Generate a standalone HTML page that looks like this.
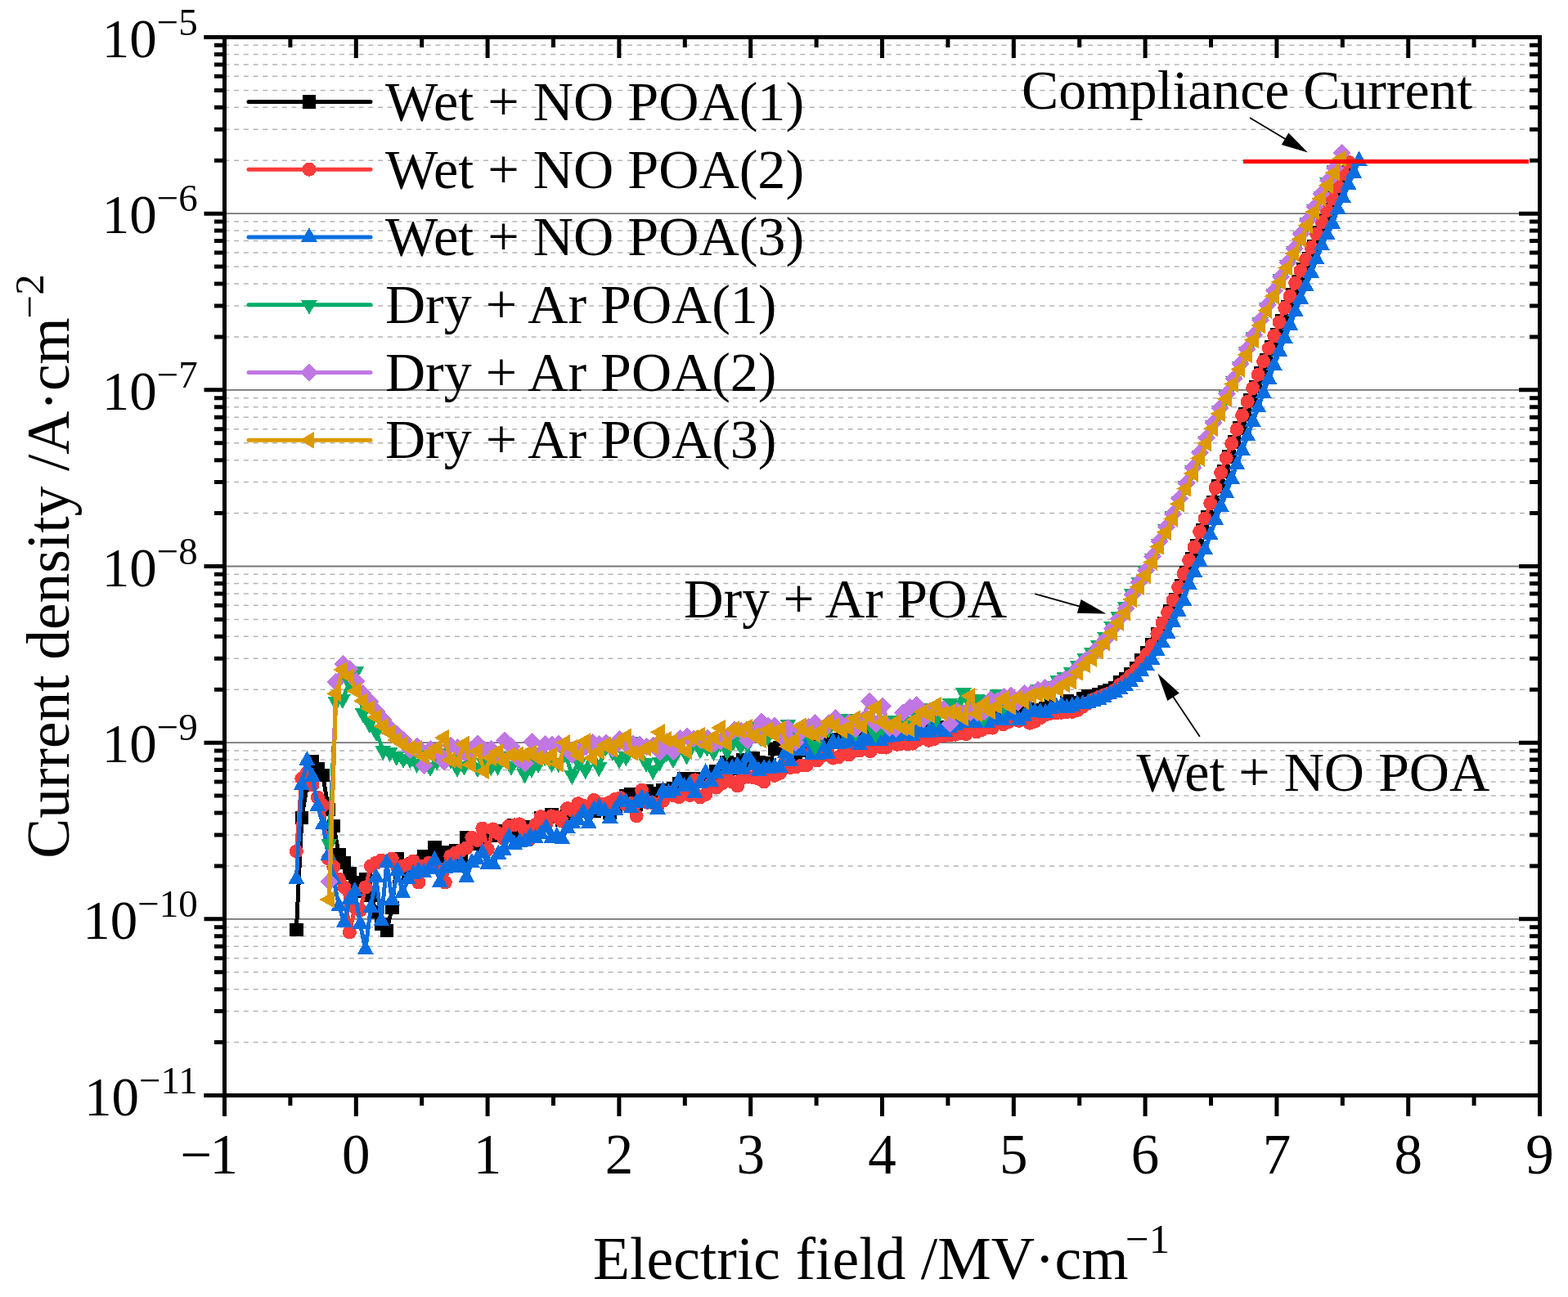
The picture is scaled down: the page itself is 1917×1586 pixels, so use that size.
<!DOCTYPE html>
<html><head><meta charset="utf-8"><title>Current density vs Electric field</title>
<style>html,body{margin:0;padding:0;background:#fff;}svg{display:block;}</style>
</head><body>
<svg width="1917" height="1586" viewBox="0 0 1917 1586">
<rect x="0" y="0" width="1917" height="1586" fill="#ffffff"/>
<path d="M274.5 1274.58H1882.5M274.5 1236.60H1882.5M274.5 1209.66H1882.5M274.5 1188.76H1882.5M274.5 1171.68H1882.5M274.5 1157.24H1882.5M274.5 1144.73H1882.5M274.5 1133.70H1882.5M274.5 1058.91H1882.5M274.5 1020.93H1882.5M274.5 993.99H1882.5M274.5 973.09H1882.5M274.5 956.01H1882.5M274.5 941.57H1882.5M274.5 929.07H1882.5M274.5 918.04H1882.5M274.5 843.24H1882.5M274.5 805.27H1882.5M274.5 778.32H1882.5M274.5 757.42H1882.5M274.5 740.35H1882.5M274.5 725.91H1882.5M274.5 713.40H1882.5M274.5 702.37H1882.5M274.5 627.58H1882.5M274.5 589.60H1882.5M274.5 562.66H1882.5M274.5 541.76H1882.5M274.5 524.68H1882.5M274.5 510.24H1882.5M274.5 497.73H1882.5M274.5 486.70H1882.5M274.5 411.91H1882.5M274.5 373.93H1882.5M274.5 346.99H1882.5M274.5 326.09H1882.5M274.5 309.01H1882.5M274.5 294.57H1882.5M274.5 282.07H1882.5M274.5 271.04H1882.5M274.5 196.24H1882.5M274.5 158.27H1882.5M274.5 131.32H1882.5M274.5 110.42H1882.5M274.5 93.35H1882.5M274.5 78.91H1882.5M274.5 66.40H1882.5M274.5 55.37H1882.5" stroke="#b4b4b4" stroke-width="1.5" stroke-dasharray="5.95 5.78" stroke-dashoffset="0.1" fill="none"/>
<path d="M274.5 1123.83H1882.5M274.5 908.17H1882.5M274.5 692.50H1882.5M274.5 476.83H1882.5M274.5 261.17H1882.5" stroke="#747474" stroke-width="1.8" fill="none"/>
<path d="M362.4 1137.0L368.9 1000.0L375.4 960.0L381.9 931.0L388.4 940.0L394.9 948.0L401.4 990.0L407.9 1010.0L414.4 1045.0L420.9 1055.0L427.4 1068.0L433.9 1079.0L440.4 1090.0L446.8 1075.0L453.3 1095.0L459.8 1115.0L466.3 1130.0L472.8 1138.0L479.3 1110.0L485.8 1050.0L492.3 1062.0L498.8 1072.3L505.3 1055.8L511.8 1053.4L518.3 1047.6L524.8 1056.9L531.3 1036.3L537.8 1058.8L544.3 1042.1L550.8 1046.1L557.3 1040.1L563.8 1047.4L570.3 1024.0L576.8 1031.3L583.3 1028.0L589.8 1034.0L596.3 1018.5L602.8 1021.8L609.2 1015.8L615.7 1019.3L622.2 1020.6L628.7 1009.1L635.2 1019.8L641.7 1016.1L648.2 1011.4L654.7 1011.4L661.2 1000.3L667.7 1001.9L674.2 996.2L680.7 998.8L687.2 1002.2L693.7 994.2L700.2 994.8L706.7 992.0L713.2 989.8L719.7 989.3L726.2 991.3L732.7 983.0L739.2 988.2L745.7 993.6L752.2 986.1L758.7 978.7L765.2 972.8L771.6 971.7L778.1 983.2L784.6 972.6L791.1 967.1L797.6 969.9L804.1 978.5L810.6 966.2L817.1 967.2L823.6 963.8L830.1 958.6L836.6 952.4L843.1 954.3L849.6 952.4L856.1 953.7L862.6 952.0L869.1 949.4L875.6 943.1L882.1 943.3L888.6 931.8L895.1 939.8L901.6 934.3L908.1 928.9L914.6 931.8L921.1 927.6L927.6 932.6L934.0 933.3L940.5 935.5L947.0 916.0L953.5 914.5L960.0 917.9L966.5 919.9L973.0 921.9L979.5 917.3L986.0 903.2L992.5 909.5L999.0 913.4L1005.5 909.0L1012.0 910.0L1018.5 904.8L1025.0 903.9L1031.5 904.2L1038.0 903.9L1044.5 902.4L1051.0 901.4L1057.5 899.0L1064.0 900.4L1070.5 899.2L1077.0 900.6L1083.5 900.1L1090.0 897.4L1096.4 895.6L1102.9 894.4L1109.4 895.9L1115.9 894.5L1122.4 892.9L1128.9 892.9L1135.4 890.8L1141.9 892.6L1148.4 889.3L1154.9 891.7L1161.4 889.0L1167.9 888.4L1174.4 883.9L1180.9 885.3L1187.4 885.3L1193.9 880.8L1200.4 881.0L1206.9 880.4L1213.4 876.3L1219.9 878.5L1226.4 878.3L1232.9 873.6L1239.4 874.8L1245.9 870.2L1252.4 871.5L1258.8 867.0L1265.3 871.1L1271.8 868.4L1278.3 866.1L1284.8 863.2L1291.3 865.8L1297.8 865.8L1304.3 857.2L1310.8 860.8L1317.3 858.9L1323.8 854.3L1330.3 851.7L1336.8 851.0L1343.3 849.2L1349.8 846.7L1356.3 844.7L1362.8 840.9L1369.3 834.7L1375.8 830.1L1382.3 823.9L1388.8 816.8L1395.3 807.5L1401.8 797.9L1408.6 788.1L1415.7 775.5L1422.8 761.9L1429.9 747.5L1437.0 732.9L1444.0 716.7L1450.5 699.8L1457.0 683.6L1463.5 667.3L1470.0 648.5L1476.5 632.4L1483.0 613.9L1489.5 594.7L1496.0 576.4L1502.5 558.3L1508.9 540.7L1515.4 523.4L1521.9 506.4L1528.4 489.6L1534.9 473.0L1541.4 456.6L1547.9 440.3L1554.4 424.2L1560.9 409.0L1567.4 392.2L1573.9 374.9L1580.4 360.7L1586.9 344.7L1593.4 329.7L1599.9 315.9L1606.4 300.8L1612.9 284.5L1619.4 270.2L1625.9 255.9L1632.4 241.3L1638.9 226.2L1645.4 211.3" stroke="#000000" stroke-width="5" fill="none" stroke-linejoin="round" stroke-linecap="round" shape-rendering="crispEdges"/>
<path d="M354.1 1128.7h16.6v16.6h-16.6zM360.6 991.7h16.6v16.6h-16.6zM367.1 951.7h16.6v16.6h-16.6zM373.6 922.7h16.6v16.6h-16.6zM380.1 931.7h16.6v16.6h-16.6zM386.6 939.7h16.6v16.6h-16.6zM393.1 981.7h16.6v16.6h-16.6zM399.6 1001.7h16.6v16.6h-16.6zM406.1 1036.7h16.6v16.6h-16.6zM412.6 1046.7h16.6v16.6h-16.6zM419.1 1059.7h16.6v16.6h-16.6zM425.6 1070.7h16.6v16.6h-16.6zM432.1 1081.7h16.6v16.6h-16.6zM438.5 1066.7h16.6v16.6h-16.6zM445.0 1086.7h16.6v16.6h-16.6zM451.5 1106.7h16.6v16.6h-16.6zM458.0 1121.7h16.6v16.6h-16.6zM464.5 1129.7h16.6v16.6h-16.6zM471.0 1101.7h16.6v16.6h-16.6zM477.5 1041.7h16.6v16.6h-16.6zM484.0 1053.7h16.6v16.6h-16.6zM490.5 1064.0h16.6v16.6h-16.6zM497.0 1047.5h16.6v16.6h-16.6zM503.5 1045.1h16.6v16.6h-16.6zM510.0 1039.3h16.6v16.6h-16.6zM516.5 1048.6h16.6v16.6h-16.6zM523.0 1028.0h16.6v16.6h-16.6zM529.5 1050.5h16.6v16.6h-16.6zM536.0 1033.8h16.6v16.6h-16.6zM542.5 1037.8h16.6v16.6h-16.6zM549.0 1031.8h16.6v16.6h-16.6zM555.5 1039.1h16.6v16.6h-16.6zM562.0 1015.7h16.6v16.6h-16.6zM568.5 1023.0h16.6v16.6h-16.6zM575.0 1019.7h16.6v16.6h-16.6zM581.5 1025.7h16.6v16.6h-16.6zM588.0 1010.2h16.6v16.6h-16.6zM594.5 1013.5h16.6v16.6h-16.6zM600.9 1007.5h16.6v16.6h-16.6zM607.4 1011.0h16.6v16.6h-16.6zM613.9 1012.3h16.6v16.6h-16.6zM620.4 1000.8h16.6v16.6h-16.6zM626.9 1011.5h16.6v16.6h-16.6zM633.4 1007.8h16.6v16.6h-16.6zM639.9 1003.1h16.6v16.6h-16.6zM646.4 1003.1h16.6v16.6h-16.6zM652.9 992.0h16.6v16.6h-16.6zM659.4 993.6h16.6v16.6h-16.6zM665.9 987.9h16.6v16.6h-16.6zM672.4 990.5h16.6v16.6h-16.6zM678.9 993.9h16.6v16.6h-16.6zM685.4 985.9h16.6v16.6h-16.6zM691.9 986.5h16.6v16.6h-16.6zM698.4 983.7h16.6v16.6h-16.6zM704.9 981.5h16.6v16.6h-16.6zM711.4 981.0h16.6v16.6h-16.6zM717.9 983.0h16.6v16.6h-16.6zM724.4 974.7h16.6v16.6h-16.6zM730.9 979.9h16.6v16.6h-16.6zM737.4 985.3h16.6v16.6h-16.6zM743.9 977.8h16.6v16.6h-16.6zM750.4 970.4h16.6v16.6h-16.6zM756.9 964.5h16.6v16.6h-16.6zM763.3 963.4h16.6v16.6h-16.6zM769.8 974.9h16.6v16.6h-16.6zM776.3 964.3h16.6v16.6h-16.6zM782.8 958.8h16.6v16.6h-16.6zM789.3 961.6h16.6v16.6h-16.6zM795.8 970.2h16.6v16.6h-16.6zM802.3 957.9h16.6v16.6h-16.6zM808.8 958.9h16.6v16.6h-16.6zM815.3 955.5h16.6v16.6h-16.6zM821.8 950.3h16.6v16.6h-16.6zM828.3 944.1h16.6v16.6h-16.6zM834.8 946.0h16.6v16.6h-16.6zM841.3 944.1h16.6v16.6h-16.6zM847.8 945.4h16.6v16.6h-16.6zM854.3 943.7h16.6v16.6h-16.6zM860.8 941.1h16.6v16.6h-16.6zM867.3 934.8h16.6v16.6h-16.6zM873.8 935.0h16.6v16.6h-16.6zM880.3 923.5h16.6v16.6h-16.6zM886.8 931.5h16.6v16.6h-16.6zM893.3 926.0h16.6v16.6h-16.6zM899.8 920.6h16.6v16.6h-16.6zM906.3 923.5h16.6v16.6h-16.6zM912.8 919.3h16.6v16.6h-16.6zM919.3 924.3h16.6v16.6h-16.6zM925.7 925.0h16.6v16.6h-16.6zM932.2 927.2h16.6v16.6h-16.6zM938.7 907.7h16.6v16.6h-16.6zM945.2 906.2h16.6v16.6h-16.6zM951.7 909.6h16.6v16.6h-16.6zM958.2 911.6h16.6v16.6h-16.6zM964.7 913.6h16.6v16.6h-16.6zM971.2 909.0h16.6v16.6h-16.6zM977.7 894.9h16.6v16.6h-16.6zM984.2 901.2h16.6v16.6h-16.6zM990.7 905.1h16.6v16.6h-16.6zM997.2 900.7h16.6v16.6h-16.6zM1003.7 901.7h16.6v16.6h-16.6zM1010.2 896.5h16.6v16.6h-16.6zM1016.7 895.6h16.6v16.6h-16.6zM1023.2 895.9h16.6v16.6h-16.6zM1029.7 895.6h16.6v16.6h-16.6zM1036.2 894.1h16.6v16.6h-16.6zM1042.7 893.1h16.6v16.6h-16.6zM1049.2 890.7h16.6v16.6h-16.6zM1055.7 892.1h16.6v16.6h-16.6zM1062.2 890.9h16.6v16.6h-16.6zM1068.7 892.3h16.6v16.6h-16.6zM1075.2 891.8h16.6v16.6h-16.6zM1081.7 889.1h16.6v16.6h-16.6zM1088.1 887.3h16.6v16.6h-16.6zM1094.6 886.1h16.6v16.6h-16.6zM1101.1 887.6h16.6v16.6h-16.6zM1107.6 886.2h16.6v16.6h-16.6zM1114.1 884.6h16.6v16.6h-16.6zM1120.6 884.6h16.6v16.6h-16.6zM1127.1 882.5h16.6v16.6h-16.6zM1133.6 884.3h16.6v16.6h-16.6zM1140.1 881.0h16.6v16.6h-16.6zM1146.6 883.4h16.6v16.6h-16.6zM1153.1 880.7h16.6v16.6h-16.6zM1159.6 880.1h16.6v16.6h-16.6zM1166.1 875.6h16.6v16.6h-16.6zM1172.6 877.0h16.6v16.6h-16.6zM1179.1 877.0h16.6v16.6h-16.6zM1185.6 872.5h16.6v16.6h-16.6zM1192.1 872.7h16.6v16.6h-16.6zM1198.6 872.1h16.6v16.6h-16.6zM1205.1 868.0h16.6v16.6h-16.6zM1211.6 870.2h16.6v16.6h-16.6zM1218.1 870.0h16.6v16.6h-16.6zM1224.6 865.3h16.6v16.6h-16.6zM1231.1 866.5h16.6v16.6h-16.6zM1237.6 861.9h16.6v16.6h-16.6zM1244.1 863.2h16.6v16.6h-16.6zM1250.5 858.7h16.6v16.6h-16.6zM1257.0 862.8h16.6v16.6h-16.6zM1263.5 860.1h16.6v16.6h-16.6zM1270.0 857.8h16.6v16.6h-16.6zM1276.5 854.9h16.6v16.6h-16.6zM1283.0 857.5h16.6v16.6h-16.6zM1289.5 857.5h16.6v16.6h-16.6zM1296.0 848.9h16.6v16.6h-16.6zM1302.5 852.5h16.6v16.6h-16.6zM1309.0 850.6h16.6v16.6h-16.6zM1315.5 846.0h16.6v16.6h-16.6zM1322.0 843.4h16.6v16.6h-16.6zM1328.5 842.7h16.6v16.6h-16.6zM1335.0 840.9h16.6v16.6h-16.6zM1341.5 838.4h16.6v16.6h-16.6zM1348.0 836.4h16.6v16.6h-16.6zM1354.5 832.6h16.6v16.6h-16.6zM1361.0 826.4h16.6v16.6h-16.6zM1367.5 821.8h16.6v16.6h-16.6zM1374.0 815.6h16.6v16.6h-16.6zM1380.5 808.5h16.6v16.6h-16.6zM1387.0 799.2h16.6v16.6h-16.6zM1393.5 789.6h16.6v16.6h-16.6zM1400.3 779.8h16.6v16.6h-16.6zM1407.4 767.2h16.6v16.6h-16.6zM1414.5 753.6h16.6v16.6h-16.6zM1421.6 739.2h16.6v16.6h-16.6zM1428.7 724.6h16.6v16.6h-16.6zM1435.7 708.4h16.6v16.6h-16.6zM1442.2 691.5h16.6v16.6h-16.6zM1448.7 675.3h16.6v16.6h-16.6zM1455.2 659.0h16.6v16.6h-16.6zM1461.7 640.2h16.6v16.6h-16.6zM1468.2 624.1h16.6v16.6h-16.6zM1474.7 605.6h16.6v16.6h-16.6zM1481.2 586.4h16.6v16.6h-16.6zM1487.7 568.1h16.6v16.6h-16.6zM1494.2 550.0h16.6v16.6h-16.6zM1500.6 532.4h16.6v16.6h-16.6zM1507.1 515.1h16.6v16.6h-16.6zM1513.6 498.1h16.6v16.6h-16.6zM1520.1 481.3h16.6v16.6h-16.6zM1526.6 464.7h16.6v16.6h-16.6zM1533.1 448.3h16.6v16.6h-16.6zM1539.6 432.0h16.6v16.6h-16.6zM1546.1 415.9h16.6v16.6h-16.6zM1552.6 400.7h16.6v16.6h-16.6zM1559.1 383.9h16.6v16.6h-16.6zM1565.6 366.6h16.6v16.6h-16.6zM1572.1 352.4h16.6v16.6h-16.6zM1578.6 336.4h16.6v16.6h-16.6zM1585.1 321.4h16.6v16.6h-16.6zM1591.6 307.6h16.6v16.6h-16.6zM1598.1 292.5h16.6v16.6h-16.6zM1604.6 276.2h16.6v16.6h-16.6zM1611.1 261.9h16.6v16.6h-16.6zM1617.6 247.6h16.6v16.6h-16.6zM1624.1 233.0h16.6v16.6h-16.6zM1630.6 217.9h16.6v16.6h-16.6zM1637.1 203.0h16.6v16.6h-16.6z" fill="#000000" shape-rendering="crispEdges"/>
<path d="M362.4 1041.0L368.9 952.0L375.4 945.0L381.9 960.0L388.4 975.0L394.9 985.0L401.4 1050.0L407.9 1060.0L414.4 1075.0L420.9 1085.0L427.4 1140.0L433.9 1110.0L440.4 1113.0L446.8 1085.0L453.3 1059.0L459.8 1055.0L466.3 1052.0L472.8 1053.0L479.3 1050.0L485.8 1061.0L492.3 1059.0L498.8 1057.0L505.3 1053.0L511.8 1079.0L518.3 1059.0L524.8 1055.0L531.3 1061.0L537.8 1063.0L544.3 1079.0L550.8 1047.0L557.3 1043.0L563.8 1040.0L570.3 1037.0L576.8 1024.3L583.3 1027.5L589.8 1013.0L596.3 1038.7L602.8 1013.9L609.2 1019.0L615.7 1025.3L622.2 1010.0L628.7 1008.8L635.2 1007.8L641.7 1015.9L648.2 1025.9L654.7 1008.5L661.2 998.6L667.7 1007.8L674.2 997.8L680.7 999.0L687.2 1004.3L693.7 988.6L700.2 991.2L706.7 982.6L713.2 985.0L719.7 986.7L726.2 978.4L732.7 982.8L739.2 983.4L745.7 980.8L752.2 977.2L758.7 975.7L765.2 983.8L771.6 982.5L778.1 997.8L784.6 966.2L791.1 981.3L797.6 981.5L804.1 986.3L810.6 979.3L817.1 969.2L823.6 973.0L830.1 974.7L836.6 967.4L843.1 972.5L849.6 953.8L856.1 974.9L862.6 971.5L869.1 958.5L875.6 963.1L882.1 958.3L888.6 951.7L895.1 956.3L901.6 961.0L908.1 951.3L914.6 950.1L921.1 950.7L927.6 952.4L934.0 956.0L940.5 942.7L947.0 948.3L953.5 945.3L960.0 931.4L966.5 938.5L973.0 938.0L979.5 936.0L986.0 935.7L992.5 919.2L999.0 929.9L1005.5 924.1L1012.0 918.9L1018.5 927.0L1025.0 926.1L1031.5 919.4L1038.0 922.9L1044.5 918.1L1051.0 918.0L1057.5 914.5L1064.0 918.7L1070.5 909.4L1077.0 913.5L1083.5 914.0L1090.0 907.8L1096.4 910.3L1102.9 909.3L1109.4 909.8L1115.9 909.2L1122.4 904.8L1128.9 901.6L1135.4 905.3L1141.9 903.7L1148.4 899.5L1154.9 899.8L1161.4 898.8L1167.9 898.2L1174.4 896.6L1180.9 897.7L1187.4 891.3L1193.9 895.0L1200.4 892.6L1206.9 889.9L1213.4 890.1L1219.9 882.0L1226.4 885.7L1232.9 882.7L1239.4 879.2L1245.9 881.4L1252.4 880.0L1258.8 884.2L1265.3 882.2L1271.8 877.9L1278.3 873.8L1284.8 872.3L1291.3 872.0L1297.8 871.3L1304.3 870.5L1310.8 870.4L1317.3 868.3L1323.8 864.3L1330.3 859.7L1336.8 855.4L1343.3 852.4L1349.8 849.8L1356.3 847.9L1362.8 843.7L1369.3 837.1L1375.8 832.9L1382.3 826.3L1388.8 819.1L1395.3 809.6L1401.8 800.2L1408.3 789.2L1414.8 775.0L1421.2 761.9L1427.7 749.1L1434.2 734.0L1440.7 718.2L1447.2 701.5L1453.7 685.2L1460.2 669.0L1466.7 650.2L1473.2 634.0L1479.7 615.7L1486.2 596.5L1492.7 578.1L1499.2 560.0L1505.7 542.4L1512.2 525.1L1518.7 508.0L1525.2 491.2L1531.7 474.6L1538.2 458.2L1544.7 441.9L1551.2 425.8L1557.7 410.6L1564.2 394.0L1570.7 376.4L1577.2 362.3L1583.6 346.3L1590.1 331.2L1596.6 317.4L1603.1 302.5L1609.6 286.0L1616.1 271.7L1622.6 257.5L1629.1 242.9L1635.6 227.8L1642.1 212.9L1648.6 198.1" stroke="#fa3c3c" stroke-width="5" fill="none" stroke-linejoin="round" stroke-linecap="round" shape-rendering="crispEdges"/>
<path d="M353.9 1041.0a8.5 8.5 0 1 0 17.0 0a8.5 8.5 0 1 0 -17.0 0zM360.4 952.0a8.5 8.5 0 1 0 17.0 0a8.5 8.5 0 1 0 -17.0 0zM366.9 945.0a8.5 8.5 0 1 0 17.0 0a8.5 8.5 0 1 0 -17.0 0zM373.4 960.0a8.5 8.5 0 1 0 17.0 0a8.5 8.5 0 1 0 -17.0 0zM379.9 975.0a8.5 8.5 0 1 0 17.0 0a8.5 8.5 0 1 0 -17.0 0zM386.4 985.0a8.5 8.5 0 1 0 17.0 0a8.5 8.5 0 1 0 -17.0 0zM392.9 1050.0a8.5 8.5 0 1 0 17.0 0a8.5 8.5 0 1 0 -17.0 0zM399.4 1060.0a8.5 8.5 0 1 0 17.0 0a8.5 8.5 0 1 0 -17.0 0zM405.9 1075.0a8.5 8.5 0 1 0 17.0 0a8.5 8.5 0 1 0 -17.0 0zM412.4 1085.0a8.5 8.5 0 1 0 17.0 0a8.5 8.5 0 1 0 -17.0 0zM418.9 1140.0a8.5 8.5 0 1 0 17.0 0a8.5 8.5 0 1 0 -17.0 0zM425.4 1110.0a8.5 8.5 0 1 0 17.0 0a8.5 8.5 0 1 0 -17.0 0zM431.9 1113.0a8.5 8.5 0 1 0 17.0 0a8.5 8.5 0 1 0 -17.0 0zM438.3 1085.0a8.5 8.5 0 1 0 17.0 0a8.5 8.5 0 1 0 -17.0 0zM444.8 1059.0a8.5 8.5 0 1 0 17.0 0a8.5 8.5 0 1 0 -17.0 0zM451.3 1055.0a8.5 8.5 0 1 0 17.0 0a8.5 8.5 0 1 0 -17.0 0zM457.8 1052.0a8.5 8.5 0 1 0 17.0 0a8.5 8.5 0 1 0 -17.0 0zM464.3 1053.0a8.5 8.5 0 1 0 17.0 0a8.5 8.5 0 1 0 -17.0 0zM470.8 1050.0a8.5 8.5 0 1 0 17.0 0a8.5 8.5 0 1 0 -17.0 0zM477.3 1061.0a8.5 8.5 0 1 0 17.0 0a8.5 8.5 0 1 0 -17.0 0zM483.8 1059.0a8.5 8.5 0 1 0 17.0 0a8.5 8.5 0 1 0 -17.0 0zM490.3 1057.0a8.5 8.5 0 1 0 17.0 0a8.5 8.5 0 1 0 -17.0 0zM496.8 1053.0a8.5 8.5 0 1 0 17.0 0a8.5 8.5 0 1 0 -17.0 0zM503.3 1079.0a8.5 8.5 0 1 0 17.0 0a8.5 8.5 0 1 0 -17.0 0zM509.8 1059.0a8.5 8.5 0 1 0 17.0 0a8.5 8.5 0 1 0 -17.0 0zM516.3 1055.0a8.5 8.5 0 1 0 17.0 0a8.5 8.5 0 1 0 -17.0 0zM522.8 1061.0a8.5 8.5 0 1 0 17.0 0a8.5 8.5 0 1 0 -17.0 0zM529.3 1063.0a8.5 8.5 0 1 0 17.0 0a8.5 8.5 0 1 0 -17.0 0zM535.8 1079.0a8.5 8.5 0 1 0 17.0 0a8.5 8.5 0 1 0 -17.0 0zM542.3 1047.0a8.5 8.5 0 1 0 17.0 0a8.5 8.5 0 1 0 -17.0 0zM548.8 1043.0a8.5 8.5 0 1 0 17.0 0a8.5 8.5 0 1 0 -17.0 0zM555.3 1040.0a8.5 8.5 0 1 0 17.0 0a8.5 8.5 0 1 0 -17.0 0zM561.8 1037.0a8.5 8.5 0 1 0 17.0 0a8.5 8.5 0 1 0 -17.0 0zM568.3 1024.3a8.5 8.5 0 1 0 17.0 0a8.5 8.5 0 1 0 -17.0 0zM574.8 1027.5a8.5 8.5 0 1 0 17.0 0a8.5 8.5 0 1 0 -17.0 0zM581.3 1013.0a8.5 8.5 0 1 0 17.0 0a8.5 8.5 0 1 0 -17.0 0zM587.8 1038.7a8.5 8.5 0 1 0 17.0 0a8.5 8.5 0 1 0 -17.0 0zM594.3 1013.9a8.5 8.5 0 1 0 17.0 0a8.5 8.5 0 1 0 -17.0 0zM600.7 1019.0a8.5 8.5 0 1 0 17.0 0a8.5 8.5 0 1 0 -17.0 0zM607.2 1025.3a8.5 8.5 0 1 0 17.0 0a8.5 8.5 0 1 0 -17.0 0zM613.7 1010.0a8.5 8.5 0 1 0 17.0 0a8.5 8.5 0 1 0 -17.0 0zM620.2 1008.8a8.5 8.5 0 1 0 17.0 0a8.5 8.5 0 1 0 -17.0 0zM626.7 1007.8a8.5 8.5 0 1 0 17.0 0a8.5 8.5 0 1 0 -17.0 0zM633.2 1015.9a8.5 8.5 0 1 0 17.0 0a8.5 8.5 0 1 0 -17.0 0zM639.7 1025.9a8.5 8.5 0 1 0 17.0 0a8.5 8.5 0 1 0 -17.0 0zM646.2 1008.5a8.5 8.5 0 1 0 17.0 0a8.5 8.5 0 1 0 -17.0 0zM652.7 998.6a8.5 8.5 0 1 0 17.0 0a8.5 8.5 0 1 0 -17.0 0zM659.2 1007.8a8.5 8.5 0 1 0 17.0 0a8.5 8.5 0 1 0 -17.0 0zM665.7 997.8a8.5 8.5 0 1 0 17.0 0a8.5 8.5 0 1 0 -17.0 0zM672.2 999.0a8.5 8.5 0 1 0 17.0 0a8.5 8.5 0 1 0 -17.0 0zM678.7 1004.3a8.5 8.5 0 1 0 17.0 0a8.5 8.5 0 1 0 -17.0 0zM685.2 988.6a8.5 8.5 0 1 0 17.0 0a8.5 8.5 0 1 0 -17.0 0zM691.7 991.2a8.5 8.5 0 1 0 17.0 0a8.5 8.5 0 1 0 -17.0 0zM698.2 982.6a8.5 8.5 0 1 0 17.0 0a8.5 8.5 0 1 0 -17.0 0zM704.7 985.0a8.5 8.5 0 1 0 17.0 0a8.5 8.5 0 1 0 -17.0 0zM711.2 986.7a8.5 8.5 0 1 0 17.0 0a8.5 8.5 0 1 0 -17.0 0zM717.7 978.4a8.5 8.5 0 1 0 17.0 0a8.5 8.5 0 1 0 -17.0 0zM724.2 982.8a8.5 8.5 0 1 0 17.0 0a8.5 8.5 0 1 0 -17.0 0zM730.7 983.4a8.5 8.5 0 1 0 17.0 0a8.5 8.5 0 1 0 -17.0 0zM737.2 980.8a8.5 8.5 0 1 0 17.0 0a8.5 8.5 0 1 0 -17.0 0zM743.7 977.2a8.5 8.5 0 1 0 17.0 0a8.5 8.5 0 1 0 -17.0 0zM750.2 975.7a8.5 8.5 0 1 0 17.0 0a8.5 8.5 0 1 0 -17.0 0zM756.7 983.8a8.5 8.5 0 1 0 17.0 0a8.5 8.5 0 1 0 -17.0 0zM763.1 982.5a8.5 8.5 0 1 0 17.0 0a8.5 8.5 0 1 0 -17.0 0zM769.6 997.8a8.5 8.5 0 1 0 17.0 0a8.5 8.5 0 1 0 -17.0 0zM776.1 966.2a8.5 8.5 0 1 0 17.0 0a8.5 8.5 0 1 0 -17.0 0zM782.6 981.3a8.5 8.5 0 1 0 17.0 0a8.5 8.5 0 1 0 -17.0 0zM789.1 981.5a8.5 8.5 0 1 0 17.0 0a8.5 8.5 0 1 0 -17.0 0zM795.6 986.3a8.5 8.5 0 1 0 17.0 0a8.5 8.5 0 1 0 -17.0 0zM802.1 979.3a8.5 8.5 0 1 0 17.0 0a8.5 8.5 0 1 0 -17.0 0zM808.6 969.2a8.5 8.5 0 1 0 17.0 0a8.5 8.5 0 1 0 -17.0 0zM815.1 973.0a8.5 8.5 0 1 0 17.0 0a8.5 8.5 0 1 0 -17.0 0zM821.6 974.7a8.5 8.5 0 1 0 17.0 0a8.5 8.5 0 1 0 -17.0 0zM828.1 967.4a8.5 8.5 0 1 0 17.0 0a8.5 8.5 0 1 0 -17.0 0zM834.6 972.5a8.5 8.5 0 1 0 17.0 0a8.5 8.5 0 1 0 -17.0 0zM841.1 953.8a8.5 8.5 0 1 0 17.0 0a8.5 8.5 0 1 0 -17.0 0zM847.6 974.9a8.5 8.5 0 1 0 17.0 0a8.5 8.5 0 1 0 -17.0 0zM854.1 971.5a8.5 8.5 0 1 0 17.0 0a8.5 8.5 0 1 0 -17.0 0zM860.6 958.5a8.5 8.5 0 1 0 17.0 0a8.5 8.5 0 1 0 -17.0 0zM867.1 963.1a8.5 8.5 0 1 0 17.0 0a8.5 8.5 0 1 0 -17.0 0zM873.6 958.3a8.5 8.5 0 1 0 17.0 0a8.5 8.5 0 1 0 -17.0 0zM880.1 951.7a8.5 8.5 0 1 0 17.0 0a8.5 8.5 0 1 0 -17.0 0zM886.6 956.3a8.5 8.5 0 1 0 17.0 0a8.5 8.5 0 1 0 -17.0 0zM893.1 961.0a8.5 8.5 0 1 0 17.0 0a8.5 8.5 0 1 0 -17.0 0zM899.6 951.3a8.5 8.5 0 1 0 17.0 0a8.5 8.5 0 1 0 -17.0 0zM906.1 950.1a8.5 8.5 0 1 0 17.0 0a8.5 8.5 0 1 0 -17.0 0zM912.6 950.7a8.5 8.5 0 1 0 17.0 0a8.5 8.5 0 1 0 -17.0 0zM919.1 952.4a8.5 8.5 0 1 0 17.0 0a8.5 8.5 0 1 0 -17.0 0zM925.5 956.0a8.5 8.5 0 1 0 17.0 0a8.5 8.5 0 1 0 -17.0 0zM932.0 942.7a8.5 8.5 0 1 0 17.0 0a8.5 8.5 0 1 0 -17.0 0zM938.5 948.3a8.5 8.5 0 1 0 17.0 0a8.5 8.5 0 1 0 -17.0 0zM945.0 945.3a8.5 8.5 0 1 0 17.0 0a8.5 8.5 0 1 0 -17.0 0zM951.5 931.4a8.5 8.5 0 1 0 17.0 0a8.5 8.5 0 1 0 -17.0 0zM958.0 938.5a8.5 8.5 0 1 0 17.0 0a8.5 8.5 0 1 0 -17.0 0zM964.5 938.0a8.5 8.5 0 1 0 17.0 0a8.5 8.5 0 1 0 -17.0 0zM971.0 936.0a8.5 8.5 0 1 0 17.0 0a8.5 8.5 0 1 0 -17.0 0zM977.5 935.7a8.5 8.5 0 1 0 17.0 0a8.5 8.5 0 1 0 -17.0 0zM984.0 919.2a8.5 8.5 0 1 0 17.0 0a8.5 8.5 0 1 0 -17.0 0zM990.5 929.9a8.5 8.5 0 1 0 17.0 0a8.5 8.5 0 1 0 -17.0 0zM997.0 924.1a8.5 8.5 0 1 0 17.0 0a8.5 8.5 0 1 0 -17.0 0zM1003.5 918.9a8.5 8.5 0 1 0 17.0 0a8.5 8.5 0 1 0 -17.0 0zM1010.0 927.0a8.5 8.5 0 1 0 17.0 0a8.5 8.5 0 1 0 -17.0 0zM1016.5 926.1a8.5 8.5 0 1 0 17.0 0a8.5 8.5 0 1 0 -17.0 0zM1023.0 919.4a8.5 8.5 0 1 0 17.0 0a8.5 8.5 0 1 0 -17.0 0zM1029.5 922.9a8.5 8.5 0 1 0 17.0 0a8.5 8.5 0 1 0 -17.0 0zM1036.0 918.1a8.5 8.5 0 1 0 17.0 0a8.5 8.5 0 1 0 -17.0 0zM1042.5 918.0a8.5 8.5 0 1 0 17.0 0a8.5 8.5 0 1 0 -17.0 0zM1049.0 914.5a8.5 8.5 0 1 0 17.0 0a8.5 8.5 0 1 0 -17.0 0zM1055.5 918.7a8.5 8.5 0 1 0 17.0 0a8.5 8.5 0 1 0 -17.0 0zM1062.0 909.4a8.5 8.5 0 1 0 17.0 0a8.5 8.5 0 1 0 -17.0 0zM1068.5 913.5a8.5 8.5 0 1 0 17.0 0a8.5 8.5 0 1 0 -17.0 0zM1075.0 914.0a8.5 8.5 0 1 0 17.0 0a8.5 8.5 0 1 0 -17.0 0zM1081.5 907.8a8.5 8.5 0 1 0 17.0 0a8.5 8.5 0 1 0 -17.0 0zM1087.9 910.3a8.5 8.5 0 1 0 17.0 0a8.5 8.5 0 1 0 -17.0 0zM1094.4 909.3a8.5 8.5 0 1 0 17.0 0a8.5 8.5 0 1 0 -17.0 0zM1100.9 909.8a8.5 8.5 0 1 0 17.0 0a8.5 8.5 0 1 0 -17.0 0zM1107.4 909.2a8.5 8.5 0 1 0 17.0 0a8.5 8.5 0 1 0 -17.0 0zM1113.9 904.8a8.5 8.5 0 1 0 17.0 0a8.5 8.5 0 1 0 -17.0 0zM1120.4 901.6a8.5 8.5 0 1 0 17.0 0a8.5 8.5 0 1 0 -17.0 0zM1126.9 905.3a8.5 8.5 0 1 0 17.0 0a8.5 8.5 0 1 0 -17.0 0zM1133.4 903.7a8.5 8.5 0 1 0 17.0 0a8.5 8.5 0 1 0 -17.0 0zM1139.9 899.5a8.5 8.5 0 1 0 17.0 0a8.5 8.5 0 1 0 -17.0 0zM1146.4 899.8a8.5 8.5 0 1 0 17.0 0a8.5 8.5 0 1 0 -17.0 0zM1152.9 898.8a8.5 8.5 0 1 0 17.0 0a8.5 8.5 0 1 0 -17.0 0zM1159.4 898.2a8.5 8.5 0 1 0 17.0 0a8.5 8.5 0 1 0 -17.0 0zM1165.9 896.6a8.5 8.5 0 1 0 17.0 0a8.5 8.5 0 1 0 -17.0 0zM1172.4 897.7a8.5 8.5 0 1 0 17.0 0a8.5 8.5 0 1 0 -17.0 0zM1178.9 891.3a8.5 8.5 0 1 0 17.0 0a8.5 8.5 0 1 0 -17.0 0zM1185.4 895.0a8.5 8.5 0 1 0 17.0 0a8.5 8.5 0 1 0 -17.0 0zM1191.9 892.6a8.5 8.5 0 1 0 17.0 0a8.5 8.5 0 1 0 -17.0 0zM1198.4 889.9a8.5 8.5 0 1 0 17.0 0a8.5 8.5 0 1 0 -17.0 0zM1204.9 890.1a8.5 8.5 0 1 0 17.0 0a8.5 8.5 0 1 0 -17.0 0zM1211.4 882.0a8.5 8.5 0 1 0 17.0 0a8.5 8.5 0 1 0 -17.0 0zM1217.9 885.7a8.5 8.5 0 1 0 17.0 0a8.5 8.5 0 1 0 -17.0 0zM1224.4 882.7a8.5 8.5 0 1 0 17.0 0a8.5 8.5 0 1 0 -17.0 0zM1230.9 879.2a8.5 8.5 0 1 0 17.0 0a8.5 8.5 0 1 0 -17.0 0zM1237.4 881.4a8.5 8.5 0 1 0 17.0 0a8.5 8.5 0 1 0 -17.0 0zM1243.9 880.0a8.5 8.5 0 1 0 17.0 0a8.5 8.5 0 1 0 -17.0 0zM1250.3 884.2a8.5 8.5 0 1 0 17.0 0a8.5 8.5 0 1 0 -17.0 0zM1256.8 882.2a8.5 8.5 0 1 0 17.0 0a8.5 8.5 0 1 0 -17.0 0zM1263.3 877.9a8.5 8.5 0 1 0 17.0 0a8.5 8.5 0 1 0 -17.0 0zM1269.8 873.8a8.5 8.5 0 1 0 17.0 0a8.5 8.5 0 1 0 -17.0 0zM1276.3 872.3a8.5 8.5 0 1 0 17.0 0a8.5 8.5 0 1 0 -17.0 0zM1282.8 872.0a8.5 8.5 0 1 0 17.0 0a8.5 8.5 0 1 0 -17.0 0zM1289.3 871.3a8.5 8.5 0 1 0 17.0 0a8.5 8.5 0 1 0 -17.0 0zM1295.8 870.5a8.5 8.5 0 1 0 17.0 0a8.5 8.5 0 1 0 -17.0 0zM1302.3 870.4a8.5 8.5 0 1 0 17.0 0a8.5 8.5 0 1 0 -17.0 0zM1308.8 868.3a8.5 8.5 0 1 0 17.0 0a8.5 8.5 0 1 0 -17.0 0zM1315.3 864.3a8.5 8.5 0 1 0 17.0 0a8.5 8.5 0 1 0 -17.0 0zM1321.8 859.7a8.5 8.5 0 1 0 17.0 0a8.5 8.5 0 1 0 -17.0 0zM1328.3 855.4a8.5 8.5 0 1 0 17.0 0a8.5 8.5 0 1 0 -17.0 0zM1334.8 852.4a8.5 8.5 0 1 0 17.0 0a8.5 8.5 0 1 0 -17.0 0zM1341.3 849.8a8.5 8.5 0 1 0 17.0 0a8.5 8.5 0 1 0 -17.0 0zM1347.8 847.9a8.5 8.5 0 1 0 17.0 0a8.5 8.5 0 1 0 -17.0 0zM1354.3 843.7a8.5 8.5 0 1 0 17.0 0a8.5 8.5 0 1 0 -17.0 0zM1360.8 837.1a8.5 8.5 0 1 0 17.0 0a8.5 8.5 0 1 0 -17.0 0zM1367.3 832.9a8.5 8.5 0 1 0 17.0 0a8.5 8.5 0 1 0 -17.0 0zM1373.8 826.3a8.5 8.5 0 1 0 17.0 0a8.5 8.5 0 1 0 -17.0 0zM1380.3 819.1a8.5 8.5 0 1 0 17.0 0a8.5 8.5 0 1 0 -17.0 0zM1386.8 809.6a8.5 8.5 0 1 0 17.0 0a8.5 8.5 0 1 0 -17.0 0zM1393.3 800.2a8.5 8.5 0 1 0 17.0 0a8.5 8.5 0 1 0 -17.0 0zM1399.8 789.2a8.5 8.5 0 1 0 17.0 0a8.5 8.5 0 1 0 -17.0 0zM1406.3 775.0a8.5 8.5 0 1 0 17.0 0a8.5 8.5 0 1 0 -17.0 0zM1412.7 761.9a8.5 8.5 0 1 0 17.0 0a8.5 8.5 0 1 0 -17.0 0zM1419.2 749.1a8.5 8.5 0 1 0 17.0 0a8.5 8.5 0 1 0 -17.0 0zM1425.7 734.0a8.5 8.5 0 1 0 17.0 0a8.5 8.5 0 1 0 -17.0 0zM1432.2 718.2a8.5 8.5 0 1 0 17.0 0a8.5 8.5 0 1 0 -17.0 0zM1438.7 701.5a8.5 8.5 0 1 0 17.0 0a8.5 8.5 0 1 0 -17.0 0zM1445.2 685.2a8.5 8.5 0 1 0 17.0 0a8.5 8.5 0 1 0 -17.0 0zM1451.7 669.0a8.5 8.5 0 1 0 17.0 0a8.5 8.5 0 1 0 -17.0 0zM1458.2 650.2a8.5 8.5 0 1 0 17.0 0a8.5 8.5 0 1 0 -17.0 0zM1464.7 634.0a8.5 8.5 0 1 0 17.0 0a8.5 8.5 0 1 0 -17.0 0zM1471.2 615.7a8.5 8.5 0 1 0 17.0 0a8.5 8.5 0 1 0 -17.0 0zM1477.7 596.5a8.5 8.5 0 1 0 17.0 0a8.5 8.5 0 1 0 -17.0 0zM1484.2 578.1a8.5 8.5 0 1 0 17.0 0a8.5 8.5 0 1 0 -17.0 0zM1490.7 560.0a8.5 8.5 0 1 0 17.0 0a8.5 8.5 0 1 0 -17.0 0zM1497.2 542.4a8.5 8.5 0 1 0 17.0 0a8.5 8.5 0 1 0 -17.0 0zM1503.7 525.1a8.5 8.5 0 1 0 17.0 0a8.5 8.5 0 1 0 -17.0 0zM1510.2 508.0a8.5 8.5 0 1 0 17.0 0a8.5 8.5 0 1 0 -17.0 0zM1516.7 491.2a8.5 8.5 0 1 0 17.0 0a8.5 8.5 0 1 0 -17.0 0zM1523.2 474.6a8.5 8.5 0 1 0 17.0 0a8.5 8.5 0 1 0 -17.0 0zM1529.7 458.2a8.5 8.5 0 1 0 17.0 0a8.5 8.5 0 1 0 -17.0 0zM1536.2 441.9a8.5 8.5 0 1 0 17.0 0a8.5 8.5 0 1 0 -17.0 0zM1542.7 425.8a8.5 8.5 0 1 0 17.0 0a8.5 8.5 0 1 0 -17.0 0zM1549.2 410.6a8.5 8.5 0 1 0 17.0 0a8.5 8.5 0 1 0 -17.0 0zM1555.7 394.0a8.5 8.5 0 1 0 17.0 0a8.5 8.5 0 1 0 -17.0 0zM1562.2 376.4a8.5 8.5 0 1 0 17.0 0a8.5 8.5 0 1 0 -17.0 0zM1568.7 362.3a8.5 8.5 0 1 0 17.0 0a8.5 8.5 0 1 0 -17.0 0zM1575.1 346.3a8.5 8.5 0 1 0 17.0 0a8.5 8.5 0 1 0 -17.0 0zM1581.6 331.2a8.5 8.5 0 1 0 17.0 0a8.5 8.5 0 1 0 -17.0 0zM1588.1 317.4a8.5 8.5 0 1 0 17.0 0a8.5 8.5 0 1 0 -17.0 0zM1594.6 302.5a8.5 8.5 0 1 0 17.0 0a8.5 8.5 0 1 0 -17.0 0zM1601.1 286.0a8.5 8.5 0 1 0 17.0 0a8.5 8.5 0 1 0 -17.0 0zM1607.6 271.7a8.5 8.5 0 1 0 17.0 0a8.5 8.5 0 1 0 -17.0 0zM1614.1 257.5a8.5 8.5 0 1 0 17.0 0a8.5 8.5 0 1 0 -17.0 0zM1620.6 242.9a8.5 8.5 0 1 0 17.0 0a8.5 8.5 0 1 0 -17.0 0zM1627.1 227.8a8.5 8.5 0 1 0 17.0 0a8.5 8.5 0 1 0 -17.0 0zM1633.6 212.9a8.5 8.5 0 1 0 17.0 0a8.5 8.5 0 1 0 -17.0 0zM1640.1 198.1a8.5 8.5 0 1 0 17.0 0a8.5 8.5 0 1 0 -17.0 0z" fill="#fa3c3c" shape-rendering="crispEdges"/>
<path d="M362.4 1075.0L368.9 960.0L375.4 930.0L381.9 950.0L388.4 986.0L394.9 1008.0L401.4 1046.0L407.9 1075.0L414.4 1108.0L420.9 1128.0L427.4 1100.0L433.9 1090.0L440.4 1130.0L446.8 1161.0L453.3 1110.0L459.8 1073.0L466.3 1126.0L472.8 1055.0L479.3 1101.0L485.8 1065.0L492.3 1092.0L498.8 1075.0L505.3 1069.0L511.8 1065.0L518.3 1067.0L524.8 1063.0L531.3 1052.0L537.8 1079.0L544.3 1062.0L550.8 1059.0L557.3 1061.0L563.8 1057.0L570.3 1073.0L576.8 1055.0L583.3 1051.0L589.8 1043.0L596.3 1057.0L602.8 1056.5L609.2 1044.6L615.7 1039.9L622.2 1023.9L628.7 1032.6L635.2 1029.8L641.7 1029.3L648.2 1023.3L654.7 1025.1L661.2 1020.0L667.7 1012.2L674.2 1025.1L680.7 1022.9L687.2 1026.3L693.7 1012.8L700.2 1007.2L706.7 1003.4L713.2 993.4L719.7 1007.1L726.2 990.2L732.7 987.1L739.2 991.5L745.7 1000.8L752.2 990.6L758.7 980.6L765.2 981.0L771.6 988.3L778.1 981.8L784.6 976.4L791.1 978.6L797.6 983.4L804.1 989.8L810.6 967.3L817.1 969.7L823.6 966.9L830.1 954.7L836.6 962.2L843.1 959.2L849.6 969.8L856.1 958.2L862.6 945.0L869.1 955.8L875.6 946.4L882.1 935.4L888.6 940.9L895.1 939.5L901.6 936.4L908.1 940.7L914.6 925.2L921.1 936.1L927.6 942.5L934.0 939.9L940.5 939.9L947.0 938.3L953.5 938.9L960.0 921.2L966.5 931.2L973.0 912.5L979.5 917.9L986.0 907.7L992.5 923.4L999.0 923.3L1005.5 912.5L1012.0 921.5L1018.5 907.5L1025.0 910.1L1031.5 908.9L1038.0 903.1L1044.5 907.4L1051.0 910.7L1057.5 900.7L1064.0 905.5L1070.5 901.4L1077.0 906.3L1083.5 901.6L1090.0 901.3L1096.4 900.4L1102.9 898.4L1109.4 892.6L1115.9 900.3L1122.4 891.2L1128.9 895.3L1135.4 895.7L1141.9 890.5L1148.4 892.7L1154.9 894.8L1161.4 890.3L1167.9 886.7L1174.4 879.6L1180.9 884.4L1187.4 884.4L1193.9 883.5L1200.4 881.1L1206.9 883.9L1213.4 879.8L1219.9 879.9L1226.4 880.9L1232.9 874.9L1239.4 875.3L1245.9 881.3L1252.4 876.1L1258.8 868.3L1265.3 870.6L1271.8 871.1L1278.3 871.8L1284.8 867.3L1291.3 864.2L1297.8 862.7L1304.3 865.8L1310.8 863.9L1317.3 861.4L1323.8 861.0L1330.3 859.5L1336.8 858.2L1343.3 855.9L1349.8 853.2L1356.3 849.3L1362.8 846.8L1369.3 842.9L1375.8 838.7L1382.3 834.2L1388.8 828.4L1395.3 821.2L1401.8 813.9L1408.3 806.7L1414.8 796.2L1421.2 786.3L1427.7 775.2L1434.2 760.9L1440.7 747.9L1447.2 734.5L1453.7 714.7L1460.2 699.6L1466.7 686.7L1473.2 672.4L1479.7 654.3L1486.2 636.0L1492.7 619.7L1499.2 602.8L1505.7 585.6L1512.2 568.2L1518.7 550.8L1525.2 533.2L1531.7 515.7L1538.2 498.2L1544.7 480.8L1551.2 463.6L1557.7 446.7L1564.2 430.0L1570.7 413.8L1577.2 397.9L1583.6 381.0L1590.1 365.6L1596.6 349.9L1603.1 333.9L1609.6 317.3L1616.1 300.4L1622.6 287.1L1629.1 273.7L1635.6 255.9L1642.1 242.3L1648.6 226.1L1655.1 211.7L1661.6 196.5" stroke="#0a6ee0" stroke-width="5" fill="none" stroke-linejoin="round" stroke-linecap="round" shape-rendering="crispEdges"/>
<path d="M362.4 1063.0L372.4 1081.0L352.4 1081.0zM368.9 948.0L378.9 966.0L358.9 966.0zM375.4 918.0L385.4 936.0L365.4 936.0zM381.9 938.0L391.9 956.0L371.9 956.0zM388.4 974.0L398.4 992.0L378.4 992.0zM394.9 996.0L404.9 1014.0L384.9 1014.0zM401.4 1034.0L411.4 1052.0L391.4 1052.0zM407.9 1063.0L417.9 1081.0L397.9 1081.0zM414.4 1096.0L424.4 1114.0L404.4 1114.0zM420.9 1116.0L430.9 1134.0L410.9 1134.0zM427.4 1088.0L437.4 1106.0L417.4 1106.0zM433.9 1078.0L443.9 1096.0L423.9 1096.0zM440.4 1118.0L450.4 1136.0L430.4 1136.0zM446.8 1149.0L456.8 1167.0L436.8 1167.0zM453.3 1098.0L463.3 1116.0L443.3 1116.0zM459.8 1061.0L469.8 1079.0L449.8 1079.0zM466.3 1114.0L476.3 1132.0L456.3 1132.0zM472.8 1043.0L482.8 1061.0L462.8 1061.0zM479.3 1089.0L489.3 1107.0L469.3 1107.0zM485.8 1053.0L495.8 1071.0L475.8 1071.0zM492.3 1080.0L502.3 1098.0L482.3 1098.0zM498.8 1063.0L508.8 1081.0L488.8 1081.0zM505.3 1057.0L515.3 1075.0L495.3 1075.0zM511.8 1053.0L521.8 1071.0L501.8 1071.0zM518.3 1055.0L528.3 1073.0L508.3 1073.0zM524.8 1051.0L534.8 1069.0L514.8 1069.0zM531.3 1040.0L541.3 1058.0L521.3 1058.0zM537.8 1067.0L547.8 1085.0L527.8 1085.0zM544.3 1050.0L554.3 1068.0L534.3 1068.0zM550.8 1047.0L560.8 1065.0L540.8 1065.0zM557.3 1049.0L567.3 1067.0L547.3 1067.0zM563.8 1045.0L573.8 1063.0L553.8 1063.0zM570.3 1061.0L580.3 1079.0L560.3 1079.0zM576.8 1043.0L586.8 1061.0L566.8 1061.0zM583.3 1039.0L593.3 1057.0L573.3 1057.0zM589.8 1031.0L599.8 1049.0L579.8 1049.0zM596.3 1045.0L606.3 1063.0L586.3 1063.0zM602.8 1044.5L612.8 1062.5L592.8 1062.5zM609.2 1032.6L619.2 1050.6L599.2 1050.6zM615.7 1027.9L625.7 1045.9L605.7 1045.9zM622.2 1011.9L632.2 1029.9L612.2 1029.9zM628.7 1020.6L638.7 1038.6L618.7 1038.6zM635.2 1017.8L645.2 1035.8L625.2 1035.8zM641.7 1017.3L651.7 1035.3L631.7 1035.3zM648.2 1011.3L658.2 1029.3L638.2 1029.3zM654.7 1013.1L664.7 1031.1L644.7 1031.1zM661.2 1008.0L671.2 1026.0L651.2 1026.0zM667.7 1000.2L677.7 1018.2L657.7 1018.2zM674.2 1013.1L684.2 1031.1L664.2 1031.1zM680.7 1010.9L690.7 1028.9L670.7 1028.9zM687.2 1014.3L697.2 1032.3L677.2 1032.3zM693.7 1000.8L703.7 1018.8L683.7 1018.8zM700.2 995.2L710.2 1013.2L690.2 1013.2zM706.7 991.4L716.7 1009.4L696.7 1009.4zM713.2 981.4L723.2 999.4L703.2 999.4zM719.7 995.1L729.7 1013.1L709.7 1013.1zM726.2 978.2L736.2 996.2L716.2 996.2zM732.7 975.1L742.7 993.1L722.7 993.1zM739.2 979.5L749.2 997.5L729.2 997.5zM745.7 988.8L755.7 1006.8L735.7 1006.8zM752.2 978.6L762.2 996.6L742.2 996.6zM758.7 968.6L768.7 986.6L748.7 986.6zM765.2 969.0L775.2 987.0L755.2 987.0zM771.6 976.3L781.6 994.3L761.6 994.3zM778.1 969.8L788.1 987.8L768.1 987.8zM784.6 964.4L794.6 982.4L774.6 982.4zM791.1 966.6L801.1 984.6L781.1 984.6zM797.6 971.4L807.6 989.4L787.6 989.4zM804.1 977.8L814.1 995.8L794.1 995.8zM810.6 955.3L820.6 973.3L800.6 973.3zM817.1 957.7L827.1 975.7L807.1 975.7zM823.6 954.9L833.6 972.9L813.6 972.9zM830.1 942.7L840.1 960.7L820.1 960.7zM836.6 950.2L846.6 968.2L826.6 968.2zM843.1 947.2L853.1 965.2L833.1 965.2zM849.6 957.8L859.6 975.8L839.6 975.8zM856.1 946.2L866.1 964.2L846.1 964.2zM862.6 933.0L872.6 951.0L852.6 951.0zM869.1 943.8L879.1 961.8L859.1 961.8zM875.6 934.4L885.6 952.4L865.6 952.4zM882.1 923.4L892.1 941.4L872.1 941.4zM888.6 928.9L898.6 946.9L878.6 946.9zM895.1 927.5L905.1 945.5L885.1 945.5zM901.6 924.4L911.6 942.4L891.6 942.4zM908.1 928.7L918.1 946.7L898.1 946.7zM914.6 913.2L924.6 931.2L904.6 931.2zM921.1 924.1L931.1 942.1L911.1 942.1zM927.6 930.5L937.6 948.5L917.6 948.5zM934.0 927.9L944.0 945.9L924.0 945.9zM940.5 927.9L950.5 945.9L930.5 945.9zM947.0 926.3L957.0 944.3L937.0 944.3zM953.5 926.9L963.5 944.9L943.5 944.9zM960.0 909.2L970.0 927.2L950.0 927.2zM966.5 919.2L976.5 937.2L956.5 937.2zM973.0 900.5L983.0 918.5L963.0 918.5zM979.5 905.9L989.5 923.9L969.5 923.9zM986.0 895.7L996.0 913.7L976.0 913.7zM992.5 911.4L1002.5 929.4L982.5 929.4zM999.0 911.3L1009.0 929.3L989.0 929.3zM1005.5 900.5L1015.5 918.5L995.5 918.5zM1012.0 909.5L1022.0 927.5L1002.0 927.5zM1018.5 895.5L1028.5 913.5L1008.5 913.5zM1025.0 898.1L1035.0 916.1L1015.0 916.1zM1031.5 896.9L1041.5 914.9L1021.5 914.9zM1038.0 891.1L1048.0 909.1L1028.0 909.1zM1044.5 895.4L1054.5 913.4L1034.5 913.4zM1051.0 898.7L1061.0 916.7L1041.0 916.7zM1057.5 888.7L1067.5 906.7L1047.5 906.7zM1064.0 893.5L1074.0 911.5L1054.0 911.5zM1070.5 889.4L1080.5 907.4L1060.5 907.4zM1077.0 894.3L1087.0 912.3L1067.0 912.3zM1083.5 889.6L1093.5 907.6L1073.5 907.6zM1090.0 889.3L1100.0 907.3L1080.0 907.3zM1096.4 888.4L1106.4 906.4L1086.4 906.4zM1102.9 886.4L1112.9 904.4L1092.9 904.4zM1109.4 880.6L1119.4 898.6L1099.4 898.6zM1115.9 888.3L1125.9 906.3L1105.9 906.3zM1122.4 879.2L1132.4 897.2L1112.4 897.2zM1128.9 883.3L1138.9 901.3L1118.9 901.3zM1135.4 883.7L1145.4 901.7L1125.4 901.7zM1141.9 878.5L1151.9 896.5L1131.9 896.5zM1148.4 880.7L1158.4 898.7L1138.4 898.7zM1154.9 882.8L1164.9 900.8L1144.9 900.8zM1161.4 878.3L1171.4 896.3L1151.4 896.3zM1167.9 874.7L1177.9 892.7L1157.9 892.7zM1174.4 867.6L1184.4 885.6L1164.4 885.6zM1180.9 872.4L1190.9 890.4L1170.9 890.4zM1187.4 872.4L1197.4 890.4L1177.4 890.4zM1193.9 871.5L1203.9 889.5L1183.9 889.5zM1200.4 869.1L1210.4 887.1L1190.4 887.1zM1206.9 871.9L1216.9 889.9L1196.9 889.9zM1213.4 867.8L1223.4 885.8L1203.4 885.8zM1219.9 867.9L1229.9 885.9L1209.9 885.9zM1226.4 868.9L1236.4 886.9L1216.4 886.9zM1232.9 862.9L1242.9 880.9L1222.9 880.9zM1239.4 863.3L1249.4 881.3L1229.4 881.3zM1245.9 869.3L1255.9 887.3L1235.9 887.3zM1252.4 864.1L1262.4 882.1L1242.4 882.1zM1258.8 856.3L1268.8 874.3L1248.8 874.3zM1265.3 858.6L1275.3 876.6L1255.3 876.6zM1271.8 859.1L1281.8 877.1L1261.8 877.1zM1278.3 859.8L1288.3 877.8L1268.3 877.8zM1284.8 855.3L1294.8 873.3L1274.8 873.3zM1291.3 852.2L1301.3 870.2L1281.3 870.2zM1297.8 850.7L1307.8 868.7L1287.8 868.7zM1304.3 853.8L1314.3 871.8L1294.3 871.8zM1310.8 851.9L1320.8 869.9L1300.8 869.9zM1317.3 849.4L1327.3 867.4L1307.3 867.4zM1323.8 849.0L1333.8 867.0L1313.8 867.0zM1330.3 847.5L1340.3 865.5L1320.3 865.5zM1336.8 846.2L1346.8 864.2L1326.8 864.2zM1343.3 843.9L1353.3 861.9L1333.3 861.9zM1349.8 841.2L1359.8 859.2L1339.8 859.2zM1356.3 837.3L1366.3 855.3L1346.3 855.3zM1362.8 834.8L1372.8 852.8L1352.8 852.8zM1369.3 830.9L1379.3 848.9L1359.3 848.9zM1375.8 826.7L1385.8 844.7L1365.8 844.7zM1382.3 822.2L1392.3 840.2L1372.3 840.2zM1388.8 816.4L1398.8 834.4L1378.8 834.4zM1395.3 809.2L1405.3 827.2L1385.3 827.2zM1401.8 801.9L1411.8 819.9L1391.8 819.9zM1408.3 794.7L1418.3 812.7L1398.3 812.7zM1414.8 784.2L1424.8 802.2L1404.8 802.2zM1421.2 774.3L1431.2 792.3L1411.2 792.3zM1427.7 763.2L1437.7 781.2L1417.7 781.2zM1434.2 748.9L1444.2 766.9L1424.2 766.9zM1440.7 735.9L1450.7 753.9L1430.7 753.9zM1447.2 722.5L1457.2 740.5L1437.2 740.5zM1453.7 702.7L1463.7 720.7L1443.7 720.7zM1460.2 687.6L1470.2 705.6L1450.2 705.6zM1466.7 674.7L1476.7 692.7L1456.7 692.7zM1473.2 660.4L1483.2 678.4L1463.2 678.4zM1479.7 642.3L1489.7 660.3L1469.7 660.3zM1486.2 624.0L1496.2 642.0L1476.2 642.0zM1492.7 607.7L1502.7 625.7L1482.7 625.7zM1499.2 590.8L1509.2 608.8L1489.2 608.8zM1505.7 573.6L1515.7 591.6L1495.7 591.6zM1512.2 556.2L1522.2 574.2L1502.2 574.2zM1518.7 538.8L1528.7 556.8L1508.7 556.8zM1525.2 521.2L1535.2 539.2L1515.2 539.2zM1531.7 503.7L1541.7 521.7L1521.7 521.7zM1538.2 486.2L1548.2 504.2L1528.2 504.2zM1544.7 468.8L1554.7 486.8L1534.7 486.8zM1551.2 451.6L1561.2 469.6L1541.2 469.6zM1557.7 434.7L1567.7 452.7L1547.7 452.7zM1564.2 418.0L1574.2 436.0L1554.2 436.0zM1570.7 401.8L1580.7 419.8L1560.7 419.8zM1577.2 385.9L1587.2 403.9L1567.2 403.9zM1583.6 369.0L1593.6 387.0L1573.6 387.0zM1590.1 353.6L1600.1 371.6L1580.1 371.6zM1596.6 337.9L1606.6 355.9L1586.6 355.9zM1603.1 321.9L1613.1 339.9L1593.1 339.9zM1609.6 305.3L1619.6 323.3L1599.6 323.3zM1616.1 288.4L1626.1 306.4L1606.1 306.4zM1622.6 275.1L1632.6 293.1L1612.6 293.1zM1629.1 261.7L1639.1 279.7L1619.1 279.7zM1635.6 243.9L1645.6 261.9L1625.6 261.9zM1642.1 230.3L1652.1 248.3L1632.1 248.3zM1648.6 214.1L1658.6 232.1L1638.6 232.1zM1655.1 199.7L1665.1 217.7L1645.1 217.7zM1661.6 184.5L1671.6 202.5L1651.6 202.5z" fill="#0a6ee0" shape-rendering="crispEdges"/>
<path d="M402.3 1032.0L410.6 858.0L418.8 855.0L427.1 835.0L435.3 821.0L443.6 872.0L451.8 885.0L460.1 895.0L468.3 918.0L476.6 920.0L484.8 925.0L493.1 928.0L501.3 928.5L509.6 933.8L517.8 923.4L526.0 938.2L534.3 930.3L542.5 921.3L550.8 928.8L559.0 938.8L567.3 936.7L575.5 924.8L583.8 938.9L592.0 933.3L600.3 937.4L608.5 936.7L616.8 924.7L625.0 936.8L633.3 929.1L641.5 946.4L649.8 939.8L658.0 934.1L666.3 925.4L674.5 933.0L682.8 933.1L691.0 921.2L699.3 947.9L707.5 932.2L715.8 941.2L724.0 917.4L732.3 938.1L740.5 913.3L748.8 918.8L757.0 928.7L765.3 925.3L773.5 906.6L781.8 917.1L790.0 932.6L798.3 942.0L806.5 931.5L814.8 920.7L823.0 928.1L831.3 911.4L839.5 923.4L847.8 907.1L856.0 916.4L864.3 913.7L872.5 919.1L880.8 908.2L889.0 918.1L897.3 905.1L905.5 911.8L913.8 910.1L922.0 887.9L930.3 901.8L938.5 900.7L946.8 893.1L955.0 899.6L963.3 885.5L971.5 900.5L979.8 899.1L988.0 896.3L996.3 912.6L1004.5 894.4L1012.8 891.0L1021.0 883.4L1029.3 890.4L1037.5 879.1L1045.8 895.7L1054.0 879.0L1062.3 884.1L1070.5 897.4L1078.8 889.5L1087.0 880.8L1095.3 888.6L1103.5 875.9L1111.8 881.6L1120.0 874.3L1128.3 865.9L1136.5 875.5L1144.8 878.4L1153.0 867.0L1161.3 859.8L1169.5 863.2L1177.8 847.1L1186.0 860.0L1194.3 854.9L1202.5 877.9L1210.8 856.4L1219.0 848.5L1227.3 862.8L1235.5 854.5L1243.8 853.7L1252.0 852.0L1260.3 848.9L1268.5 843.2L1276.8 844.1L1285.0 838.7L1293.3 832.0L1301.5 828.2L1309.8 821.9L1318.0 814.0L1326.3 805.1L1334.5 797.6L1342.8 788.5L1351.0 778.7L1359.3 766.2L1367.5 754.1L1375.8 742.2L1384.0 726.1L1392.3 711.9L1400.5 698.3L1408.8 683.0L1417.0 664.7L1425.3 647.4L1433.5 631.1L1441.8 612.7L1450.0 593.9L1458.3 575.3L1466.5 556.9L1474.8 538.6L1483.0 520.4L1491.3 502.2L1499.5 484.2L1507.8 466.1L1516.0 448.1L1524.3 430.2L1532.5 412.2L1540.8 394.4L1549.0 376.2L1557.3 358.6L1565.5 341.4L1573.8 324.1L1582.0 306.7L1590.3 289.0L1598.5 272.2L1606.8 255.8L1615.0 239.5L1623.3 223.2L1631.5 208.0" stroke="#00ad68" stroke-width="5" fill="none" stroke-linejoin="round" stroke-linecap="round" shape-rendering="crispEdges"/>
<path d="M402.3 1044.0L412.3 1026.0L392.3 1026.0zM410.6 870.0L420.6 852.0L400.6 852.0zM418.8 867.0L428.8 849.0L408.8 849.0zM427.1 847.0L437.1 829.0L417.1 829.0zM435.3 833.0L445.3 815.0L425.3 815.0zM443.6 884.0L453.6 866.0L433.6 866.0zM451.8 897.0L461.8 879.0L441.8 879.0zM460.1 907.0L470.1 889.0L450.1 889.0zM468.3 930.0L478.3 912.0L458.3 912.0zM476.6 932.0L486.6 914.0L466.6 914.0zM484.8 937.0L494.8 919.0L474.8 919.0zM493.1 940.0L503.1 922.0L483.1 922.0zM501.3 940.5L511.3 922.5L491.3 922.5zM509.6 945.8L519.5 927.8L499.6 927.8zM517.8 935.4L527.8 917.4L507.8 917.4zM526.0 950.2L536.0 932.2L516.0 932.2zM534.3 942.3L544.3 924.3L524.3 924.3zM542.5 933.3L552.5 915.3L532.5 915.3zM550.8 940.8L560.8 922.8L540.8 922.8zM559.0 950.8L569.0 932.8L549.0 932.8zM567.3 948.7L577.3 930.7L557.3 930.7zM575.5 936.8L585.5 918.8L565.5 918.8zM583.8 950.9L593.8 932.9L573.8 932.9zM592.0 945.3L602.0 927.3L582.0 927.3zM600.3 949.4L610.3 931.4L590.3 931.4zM608.5 948.7L618.5 930.7L598.5 930.7zM616.8 936.7L626.8 918.7L606.8 918.7zM625.0 948.8L635.0 930.8L615.0 930.8zM633.3 941.1L643.3 923.1L623.3 923.1zM641.5 958.4L651.5 940.4L631.5 940.4zM649.8 951.8L659.8 933.8L639.8 933.8zM658.0 946.1L668.0 928.1L648.0 928.1zM666.3 937.4L676.3 919.4L656.3 919.4zM674.5 945.0L684.5 927.0L664.5 927.0zM682.8 945.1L692.8 927.1L672.8 927.1zM691.0 933.2L701.0 915.2L681.0 915.2zM699.3 959.9L709.3 941.9L689.3 941.9zM707.5 944.2L717.5 926.2L697.5 926.2zM715.8 953.2L725.8 935.2L705.8 935.2zM724.0 929.4L734.0 911.4L714.0 911.4zM732.3 950.1L742.3 932.1L722.3 932.1zM740.5 925.3L750.5 907.3L730.5 907.3zM748.8 930.8L758.8 912.8L738.8 912.8zM757.0 940.7L767.0 922.7L747.0 922.7zM765.3 937.3L775.3 919.3L755.3 919.3zM773.5 918.6L783.5 900.6L763.5 900.6zM781.8 929.1L791.8 911.1L771.8 911.1zM790.0 944.6L800.0 926.6L780.0 926.6zM798.3 954.0L808.3 936.0L788.3 936.0zM806.5 943.5L816.5 925.5L796.5 925.5zM814.8 932.7L824.8 914.7L804.8 914.7zM823.0 940.1L833.0 922.1L813.0 922.1zM831.3 923.4L841.3 905.4L821.3 905.4zM839.5 935.4L849.5 917.4L829.5 917.4zM847.8 919.1L857.8 901.1L837.8 901.1zM856.0 928.4L866.0 910.4L846.0 910.4zM864.3 925.7L874.3 907.7L854.3 907.7zM872.5 931.1L882.5 913.1L862.5 913.1zM880.8 920.2L890.8 902.2L870.8 902.2zM889.0 930.1L899.0 912.1L879.0 912.1zM897.3 917.1L907.3 899.1L887.3 899.1zM905.5 923.8L915.5 905.8L895.5 905.8zM913.8 922.1L923.8 904.1L903.8 904.1zM922.0 899.9L932.0 881.9L912.0 881.9zM930.3 913.8L940.3 895.8L920.3 895.8zM938.5 912.7L948.5 894.7L928.5 894.7zM946.8 905.1L956.8 887.1L936.8 887.1zM955.0 911.6L965.0 893.6L945.0 893.6zM963.3 897.5L973.3 879.5L953.3 879.5zM971.5 912.5L981.5 894.5L961.5 894.5zM979.8 911.1L989.8 893.1L969.8 893.1zM988.0 908.3L998.0 890.3L978.0 890.3zM996.3 924.6L1006.3 906.6L986.3 906.6zM1004.5 906.4L1014.5 888.4L994.5 888.4zM1012.8 903.0L1022.8 885.0L1002.8 885.0zM1021.0 895.4L1031.0 877.4L1011.0 877.4zM1029.3 902.4L1039.3 884.4L1019.3 884.4zM1037.5 891.1L1047.5 873.1L1027.5 873.1zM1045.8 907.7L1055.8 889.7L1035.8 889.7zM1054.0 891.0L1064.0 873.0L1044.0 873.0zM1062.3 896.1L1072.3 878.1L1052.3 878.1zM1070.5 909.4L1080.5 891.4L1060.5 891.4zM1078.8 901.5L1088.8 883.5L1068.8 883.5zM1087.0 892.8L1097.0 874.8L1077.0 874.8zM1095.3 900.6L1105.3 882.6L1085.3 882.6zM1103.5 887.9L1113.5 869.9L1093.5 869.9zM1111.8 893.6L1121.8 875.6L1101.8 875.6zM1120.0 886.3L1130.0 868.3L1110.0 868.3zM1128.3 877.9L1138.3 859.9L1118.3 859.9zM1136.5 887.5L1146.5 869.5L1126.5 869.5zM1144.8 890.4L1154.8 872.4L1134.8 872.4zM1153.0 879.0L1163.0 861.0L1143.0 861.0zM1161.3 871.8L1171.3 853.8L1151.3 853.8zM1169.5 875.2L1179.5 857.2L1159.5 857.2zM1177.8 859.1L1187.8 841.1L1167.8 841.1zM1186.0 872.0L1196.0 854.0L1176.0 854.0zM1194.3 866.9L1204.3 848.9L1184.3 848.9zM1202.5 889.9L1212.5 871.9L1192.5 871.9zM1210.8 868.4L1220.8 850.4L1200.8 850.4zM1219.0 860.5L1229.0 842.5L1209.0 842.5zM1227.3 874.8L1237.3 856.8L1217.3 856.8zM1235.5 866.5L1245.5 848.5L1225.5 848.5zM1243.8 865.7L1253.8 847.7L1233.8 847.7zM1252.0 864.0L1262.0 846.0L1242.0 846.0zM1260.3 860.9L1270.3 842.9L1250.3 842.9zM1268.5 855.2L1278.5 837.2L1258.5 837.2zM1276.8 856.1L1286.8 838.1L1266.8 838.1zM1285.0 850.7L1295.0 832.7L1275.0 832.7zM1293.3 844.0L1303.3 826.0L1283.3 826.0zM1301.5 840.2L1311.5 822.2L1291.5 822.2zM1309.8 833.9L1319.8 815.9L1299.8 815.9zM1318.0 826.0L1328.0 808.0L1308.0 808.0zM1326.3 817.1L1336.3 799.1L1316.3 799.1zM1334.5 809.6L1344.5 791.6L1324.5 791.6zM1342.8 800.5L1352.8 782.5L1332.8 782.5zM1351.0 790.7L1361.0 772.7L1341.0 772.7zM1359.3 778.2L1369.3 760.2L1349.3 760.2zM1367.5 766.1L1377.5 748.1L1357.5 748.1zM1375.8 754.2L1385.8 736.2L1365.8 736.2zM1384.0 738.1L1394.0 720.1L1374.0 720.1zM1392.3 723.9L1402.3 705.9L1382.3 705.9zM1400.5 710.3L1410.5 692.3L1390.5 692.3zM1408.8 695.0L1418.8 677.0L1398.8 677.0zM1417.0 676.7L1427.0 658.7L1407.0 658.7zM1425.3 659.4L1435.3 641.4L1415.3 641.4zM1433.5 643.1L1443.5 625.1L1423.5 625.1zM1441.8 624.7L1451.8 606.7L1431.8 606.7zM1450.0 605.9L1460.0 587.9L1440.0 587.9zM1458.3 587.3L1468.3 569.3L1448.3 569.3zM1466.5 568.9L1476.5 550.9L1456.5 550.9zM1474.8 550.6L1484.8 532.6L1464.8 532.6zM1483.0 532.4L1493.0 514.4L1473.0 514.4zM1491.3 514.2L1501.3 496.2L1481.3 496.2zM1499.5 496.2L1509.5 478.2L1489.5 478.2zM1507.8 478.1L1517.8 460.1L1497.8 460.1zM1516.0 460.1L1526.0 442.1L1506.0 442.1zM1524.3 442.2L1534.3 424.2L1514.3 424.2zM1532.5 424.2L1542.5 406.2L1522.5 406.2zM1540.8 406.4L1550.8 388.4L1530.8 388.4zM1549.0 388.2L1559.0 370.2L1539.0 370.2zM1557.3 370.6L1567.3 352.6L1547.3 352.6zM1565.5 353.4L1575.5 335.4L1555.5 335.4zM1573.8 336.1L1583.8 318.1L1563.8 318.1zM1582.0 318.7L1592.0 300.7L1572.0 300.7zM1590.3 301.0L1600.3 283.0L1580.3 283.0zM1598.5 284.2L1608.5 266.2L1588.5 266.2zM1606.8 267.8L1616.8 249.8L1596.8 249.8zM1615.0 251.5L1625.0 233.5L1605.0 233.5zM1623.3 235.2L1633.3 217.2L1613.3 217.2zM1631.5 220.0L1641.5 202.0L1621.5 202.0z" fill="#00ad68" shape-rendering="crispEdges"/>
<path d="M402.7 1078.0L410.9 834.0L419.2 812.0L427.4 818.0L435.7 833.0L443.9 848.0L452.2 858.0L460.4 870.0L468.7 880.0L476.9 890.0L485.2 898.0L493.4 905.0L501.7 916.9L509.9 912.4L518.2 936.1L526.5 915.9L534.7 919.6L543.0 931.7L551.2 911.7L559.5 914.3L567.7 920.5L576.0 916.4L584.2 909.5L592.5 917.4L600.7 916.1L609.0 923.8L617.2 905.7L625.5 913.4L633.7 928.2L642.0 933.9L650.2 906.9L658.5 923.9L666.7 910.3L675.0 910.6L683.2 909.7L691.5 912.4L699.7 922.9L708.0 919.5L716.2 912.9L724.5 908.1L732.7 909.8L741.0 908.3L749.2 915.4L757.5 904.4L765.7 910.0L774.0 909.8L782.2 910.5L790.5 912.9L798.7 911.7L807.0 919.6L815.2 907.0L823.5 919.0L831.7 903.0L840.0 900.4L848.2 903.8L856.5 904.6L864.7 902.6L873.0 909.4L881.2 906.8L889.5 900.3L897.7 892.6L906.0 893.8L914.2 905.3L922.5 895.3L930.7 882.6L939.0 887.1L947.2 887.4L955.5 900.6L963.7 889.8L972.0 908.0L980.2 894.4L988.5 889.3L996.7 884.0L1005.0 894.5L1013.2 883.9L1021.5 878.4L1029.7 888.6L1038.0 883.2L1046.2 891.7L1054.5 880.7L1062.7 857.4L1071.0 885.6L1079.2 863.3L1087.5 889.6L1095.7 890.8L1104.0 871.9L1112.2 865.0L1120.5 862.2L1128.7 879.4L1137.0 869.8L1145.2 865.6L1153.5 867.4L1161.7 885.0L1170.0 869.9L1178.2 872.0L1186.5 871.1L1194.7 871.7L1203.0 870.4L1211.2 855.4L1219.5 857.4L1227.7 852.2L1236.0 850.9L1244.2 859.0L1252.5 848.4L1260.7 848.0L1269.0 843.1L1277.2 840.9L1285.5 841.7L1293.7 834.9L1302.0 830.7L1310.2 826.2L1318.5 815.7L1326.7 808.0L1335.0 801.2L1343.2 791.7L1351.5 781.6L1359.7 768.4L1368.0 756.4L1376.2 744.0L1384.5 726.7L1392.7 712.2L1401.0 697.7L1409.2 680.8L1417.5 661.7L1425.7 644.5L1434.0 628.3L1442.2 609.4L1450.5 590.7L1458.7 572.2L1467.0 553.8L1475.2 535.5L1483.5 517.3L1491.7 499.2L1500.0 481.1L1508.2 463.1L1516.5 445.1L1524.7 427.1L1533.0 409.2L1541.2 391.3L1549.5 373.2L1557.7 355.7L1566.0 338.4L1574.2 321.2L1582.5 303.7L1590.7 286.1L1599.0 269.4L1607.2 253.0L1615.5 236.7L1623.7 220.6L1632.0 205.2L1640.2 187.2" stroke="#c077e3" stroke-width="5" fill="none" stroke-linejoin="round" stroke-linecap="round" shape-rendering="crispEdges"/>
<path d="M402.7 1067.0L413.7 1078.0L402.7 1089.0L391.7 1078.0zM410.9 823.0L421.9 834.0L410.9 845.0L399.9 834.0zM419.2 801.0L430.2 812.0L419.2 823.0L408.2 812.0zM427.4 807.0L438.4 818.0L427.4 829.0L416.4 818.0zM435.7 822.0L446.7 833.0L435.7 844.0L424.7 833.0zM443.9 837.0L454.9 848.0L443.9 859.0L432.9 848.0zM452.2 847.0L463.2 858.0L452.2 869.0L441.2 858.0zM460.4 859.0L471.4 870.0L460.4 881.0L449.4 870.0zM468.7 869.0L479.7 880.0L468.7 891.0L457.7 880.0zM476.9 879.0L487.9 890.0L476.9 901.0L465.9 890.0zM485.2 887.0L496.2 898.0L485.2 909.0L474.2 898.0zM493.4 894.0L504.4 905.0L493.4 916.0L482.4 905.0zM501.7 905.9L512.7 916.9L501.7 927.9L490.7 916.9zM509.9 901.4L521.0 912.4L509.9 923.4L498.9 912.4zM518.2 925.1L529.2 936.1L518.2 947.1L507.2 936.1zM526.5 904.9L537.5 915.9L526.5 926.9L515.5 915.9zM534.7 908.6L545.7 919.6L534.7 930.6L523.7 919.6zM543.0 920.7L554.0 931.7L543.0 942.7L532.0 931.7zM551.2 900.7L562.2 911.7L551.2 922.7L540.2 911.7zM559.5 903.3L570.5 914.3L559.5 925.3L548.5 914.3zM567.7 909.5L578.7 920.5L567.7 931.5L556.7 920.5zM576.0 905.4L587.0 916.4L576.0 927.4L565.0 916.4zM584.2 898.5L595.2 909.5L584.2 920.5L573.2 909.5zM592.5 906.4L603.5 917.4L592.5 928.4L581.5 917.4zM600.7 905.1L611.7 916.1L600.7 927.1L589.7 916.1zM609.0 912.8L620.0 923.8L609.0 934.8L598.0 923.8zM617.2 894.7L628.2 905.7L617.2 916.7L606.2 905.7zM625.5 902.4L636.5 913.4L625.5 924.4L614.5 913.4zM633.7 917.2L644.7 928.2L633.7 939.2L622.7 928.2zM642.0 922.9L653.0 933.9L642.0 944.9L631.0 933.9zM650.2 895.9L661.2 906.9L650.2 917.9L639.2 906.9zM658.5 912.9L669.5 923.9L658.5 934.9L647.5 923.9zM666.7 899.3L677.7 910.3L666.7 921.3L655.7 910.3zM675.0 899.6L686.0 910.6L675.0 921.6L664.0 910.6zM683.2 898.7L694.2 909.7L683.2 920.7L672.2 909.7zM691.5 901.4L702.5 912.4L691.5 923.4L680.5 912.4zM699.7 911.9L710.7 922.9L699.7 933.9L688.7 922.9zM708.0 908.5L719.0 919.5L708.0 930.5L697.0 919.5zM716.2 901.9L727.2 912.9L716.2 923.9L705.2 912.9zM724.5 897.1L735.5 908.1L724.5 919.1L713.5 908.1zM732.7 898.8L743.7 909.8L732.7 920.8L721.7 909.8zM741.0 897.3L752.0 908.3L741.0 919.3L730.0 908.3zM749.2 904.4L760.2 915.4L749.2 926.4L738.2 915.4zM757.5 893.4L768.5 904.4L757.5 915.4L746.5 904.4zM765.7 899.0L776.7 910.0L765.7 921.0L754.7 910.0zM774.0 898.8L785.0 909.8L774.0 920.8L763.0 909.8zM782.2 899.5L793.2 910.5L782.2 921.5L771.2 910.5zM790.5 901.9L801.5 912.9L790.5 923.9L779.5 912.9zM798.7 900.7L809.7 911.7L798.7 922.7L787.7 911.7zM807.0 908.6L818.0 919.6L807.0 930.6L796.0 919.6zM815.2 896.0L826.2 907.0L815.2 918.0L804.2 907.0zM823.5 908.0L834.5 919.0L823.5 930.0L812.5 919.0zM831.7 892.0L842.7 903.0L831.7 914.0L820.7 903.0zM840.0 889.4L851.0 900.4L840.0 911.4L829.0 900.4zM848.2 892.8L859.2 903.8L848.2 914.8L837.2 903.8zM856.5 893.6L867.5 904.6L856.5 915.6L845.5 904.6zM864.7 891.6L875.7 902.6L864.7 913.6L853.7 902.6zM873.0 898.4L884.0 909.4L873.0 920.4L862.0 909.4zM881.2 895.8L892.2 906.8L881.2 917.8L870.2 906.8zM889.5 889.3L900.5 900.3L889.5 911.3L878.5 900.3zM897.7 881.6L908.7 892.6L897.7 903.6L886.7 892.6zM906.0 882.8L917.0 893.8L906.0 904.8L895.0 893.8zM914.2 894.3L925.2 905.3L914.2 916.3L903.2 905.3zM922.5 884.3L933.5 895.3L922.5 906.3L911.5 895.3zM930.7 871.6L941.7 882.6L930.7 893.6L919.7 882.6zM939.0 876.1L950.0 887.1L939.0 898.1L928.0 887.1zM947.2 876.4L958.2 887.4L947.2 898.4L936.2 887.4zM955.5 889.6L966.5 900.6L955.5 911.6L944.5 900.6zM963.7 878.8L974.7 889.8L963.7 900.8L952.7 889.8zM972.0 897.0L983.0 908.0L972.0 919.0L961.0 908.0zM980.2 883.4L991.2 894.4L980.2 905.4L969.2 894.4zM988.5 878.3L999.5 889.3L988.5 900.3L977.5 889.3zM996.7 873.0L1007.7 884.0L996.7 895.0L985.7 884.0zM1005.0 883.5L1016.0 894.5L1005.0 905.5L994.0 894.5zM1013.2 872.9L1024.2 883.9L1013.2 894.9L1002.2 883.9zM1021.5 867.4L1032.5 878.4L1021.5 889.4L1010.5 878.4zM1029.7 877.6L1040.7 888.6L1029.7 899.6L1018.7 888.6zM1038.0 872.2L1049.0 883.2L1038.0 894.2L1027.0 883.2zM1046.2 880.7L1057.2 891.7L1046.2 902.7L1035.2 891.7zM1054.5 869.7L1065.5 880.7L1054.5 891.7L1043.5 880.7zM1062.7 846.4L1073.7 857.4L1062.7 868.4L1051.7 857.4zM1071.0 874.6L1082.0 885.6L1071.0 896.6L1060.0 885.6zM1079.2 852.3L1090.2 863.3L1079.2 874.3L1068.2 863.3zM1087.5 878.6L1098.5 889.6L1087.5 900.6L1076.5 889.6zM1095.7 879.8L1106.7 890.8L1095.7 901.8L1084.7 890.8zM1104.0 860.9L1115.0 871.9L1104.0 882.9L1093.0 871.9zM1112.2 854.0L1123.2 865.0L1112.2 876.0L1101.2 865.0zM1120.5 851.2L1131.5 862.2L1120.5 873.2L1109.5 862.2zM1128.7 868.4L1139.7 879.4L1128.7 890.4L1117.7 879.4zM1137.0 858.8L1148.0 869.8L1137.0 880.8L1126.0 869.8zM1145.2 854.6L1156.2 865.6L1145.2 876.6L1134.2 865.6zM1153.5 856.4L1164.5 867.4L1153.5 878.4L1142.5 867.4zM1161.7 874.0L1172.7 885.0L1161.7 896.0L1150.7 885.0zM1170.0 858.9L1181.0 869.9L1170.0 880.9L1159.0 869.9zM1178.2 861.0L1189.2 872.0L1178.2 883.0L1167.2 872.0zM1186.5 860.1L1197.5 871.1L1186.5 882.1L1175.5 871.1zM1194.7 860.7L1205.7 871.7L1194.7 882.7L1183.7 871.7zM1203.0 859.4L1214.0 870.4L1203.0 881.4L1192.0 870.4zM1211.2 844.4L1222.2 855.4L1211.2 866.4L1200.2 855.4zM1219.5 846.4L1230.5 857.4L1219.5 868.4L1208.5 857.4zM1227.7 841.2L1238.7 852.2L1227.7 863.2L1216.7 852.2zM1236.0 839.9L1247.0 850.9L1236.0 861.9L1225.0 850.9zM1244.2 848.0L1255.2 859.0L1244.2 870.0L1233.2 859.0zM1252.5 837.4L1263.5 848.4L1252.5 859.4L1241.5 848.4zM1260.7 837.0L1271.7 848.0L1260.7 859.0L1249.7 848.0zM1269.0 832.1L1280.0 843.1L1269.0 854.1L1258.0 843.1zM1277.2 829.9L1288.2 840.9L1277.2 851.9L1266.2 840.9zM1285.5 830.7L1296.5 841.7L1285.5 852.7L1274.5 841.7zM1293.7 823.9L1304.7 834.9L1293.7 845.9L1282.7 834.9zM1302.0 819.7L1313.0 830.7L1302.0 841.7L1291.0 830.7zM1310.2 815.2L1321.2 826.2L1310.2 837.2L1299.2 826.2zM1318.5 804.7L1329.5 815.7L1318.5 826.7L1307.5 815.7zM1326.7 797.0L1337.7 808.0L1326.7 819.0L1315.7 808.0zM1335.0 790.2L1346.0 801.2L1335.0 812.2L1324.0 801.2zM1343.2 780.7L1354.2 791.7L1343.2 802.7L1332.2 791.7zM1351.5 770.6L1362.5 781.6L1351.5 792.6L1340.5 781.6zM1359.7 757.4L1370.7 768.4L1359.7 779.4L1348.7 768.4zM1368.0 745.4L1379.0 756.4L1368.0 767.4L1357.0 756.4zM1376.2 733.0L1387.2 744.0L1376.2 755.0L1365.2 744.0zM1384.5 715.7L1395.5 726.7L1384.5 737.7L1373.5 726.7zM1392.7 701.2L1403.7 712.2L1392.7 723.2L1381.7 712.2zM1401.0 686.7L1412.0 697.7L1401.0 708.7L1390.0 697.7zM1409.2 669.8L1420.2 680.8L1409.2 691.8L1398.2 680.8zM1417.5 650.7L1428.5 661.7L1417.5 672.7L1406.5 661.7zM1425.7 633.5L1436.7 644.5L1425.7 655.5L1414.7 644.5zM1434.0 617.3L1445.0 628.3L1434.0 639.3L1423.0 628.3zM1442.2 598.4L1453.2 609.4L1442.2 620.4L1431.2 609.4zM1450.5 579.7L1461.5 590.7L1450.5 601.7L1439.5 590.7zM1458.7 561.2L1469.7 572.2L1458.7 583.2L1447.7 572.2zM1467.0 542.8L1478.0 553.8L1467.0 564.8L1456.0 553.8zM1475.2 524.5L1486.2 535.5L1475.2 546.5L1464.2 535.5zM1483.5 506.3L1494.5 517.3L1483.5 528.3L1472.5 517.3zM1491.7 488.2L1502.7 499.2L1491.7 510.2L1480.7 499.2zM1500.0 470.1L1511.0 481.1L1500.0 492.1L1489.0 481.1zM1508.2 452.1L1519.2 463.1L1508.2 474.1L1497.2 463.1zM1516.5 434.1L1527.5 445.1L1516.5 456.1L1505.5 445.1zM1524.7 416.1L1535.7 427.1L1524.7 438.1L1513.7 427.1zM1533.0 398.2L1544.0 409.2L1533.0 420.2L1522.0 409.2zM1541.2 380.3L1552.2 391.3L1541.2 402.3L1530.2 391.3zM1549.5 362.2L1560.5 373.2L1549.5 384.2L1538.5 373.2zM1557.7 344.7L1568.7 355.7L1557.7 366.7L1546.7 355.7zM1566.0 327.4L1577.0 338.4L1566.0 349.4L1555.0 338.4zM1574.2 310.2L1585.2 321.2L1574.2 332.2L1563.2 321.2zM1582.5 292.7L1593.5 303.7L1582.5 314.7L1571.5 303.7zM1590.7 275.1L1601.7 286.1L1590.7 297.1L1579.7 286.1zM1599.0 258.4L1610.0 269.4L1599.0 280.4L1588.0 269.4zM1607.2 242.0L1618.2 253.0L1607.2 264.0L1596.2 253.0zM1615.5 225.7L1626.5 236.7L1615.5 247.7L1604.5 236.7zM1623.7 209.6L1634.7 220.6L1623.7 231.6L1612.7 220.6zM1632.0 194.2L1643.0 205.2L1632.0 216.2L1621.0 205.2zM1640.2 176.2L1651.2 187.2L1640.2 198.2L1629.2 187.2z" fill="#c077e3" shape-rendering="crispEdges"/>
<path d="M402.6 1100.0L410.9 848.0L419.1 819.0L427.4 827.0L435.6 845.0L443.9 857.0L452.1 866.0L460.4 877.0L468.6 888.0L476.9 896.0L485.1 905.0L493.4 910.0L501.6 915.0L509.9 915.1L518.1 925.1L526.4 922.3L534.6 914.4L542.9 902.1L551.1 929.3L559.4 931.0L567.6 909.9L575.9 935.1L584.1 918.6L592.4 943.1L600.6 926.8L608.9 919.3L617.1 931.9L625.4 922.9L633.6 923.0L641.9 922.6L650.1 920.8L658.4 926.9L666.6 927.8L674.9 923.5L683.1 934.3L691.4 908.1L699.6 914.4L707.9 923.8L716.1 906.4L724.4 926.9L732.6 918.8L740.9 910.8L749.1 916.3L757.4 907.6L765.6 901.0L773.9 920.3L782.1 921.4L790.4 914.9L798.6 913.2L806.9 895.3L815.1 904.3L823.4 906.1L831.6 910.6L839.9 918.6L848.1 902.2L856.4 898.9L864.6 911.4L872.9 901.4L881.1 890.0L889.4 909.4L897.6 891.7L905.9 893.3L914.1 888.9L922.4 899.5L930.6 904.8L938.9 892.7L947.1 898.4L955.4 890.8L963.6 912.6L971.9 905.2L980.1 887.6L988.4 895.8L996.6 898.3L1004.9 893.3L1013.1 883.0L1021.4 886.9L1029.6 893.1L1037.8 889.9L1046.1 878.6L1054.3 888.1L1062.6 875.4L1070.8 865.5L1079.1 882.9L1087.3 888.1L1095.6 883.1L1103.8 890.3L1112.1 891.6L1120.3 879.4L1128.6 870.5L1136.8 874.3L1145.1 862.0L1153.3 872.3L1161.6 870.8L1169.8 871.8L1178.1 878.1L1186.3 851.1L1194.6 872.9L1202.8 861.3L1211.1 869.9L1219.3 863.8L1227.6 854.5L1235.8 864.3L1244.1 853.5L1252.3 857.9L1260.6 850.5L1268.8 848.6L1277.1 847.9L1285.3 849.5L1293.6 842.4L1301.8 836.7L1310.1 833.4L1318.3 822.4L1326.6 812.8L1334.8 805.4L1343.1 796.3L1351.3 786.3L1359.6 773.9L1367.8 761.4L1376.1 749.4L1384.3 733.2L1392.6 717.7L1400.8 703.4L1409.1 687.6L1417.3 668.5L1425.6 650.8L1433.8 634.5L1442.1 616.3L1450.3 597.5L1458.6 578.9L1466.8 560.5L1475.1 542.2L1483.3 523.9L1491.6 505.8L1499.8 487.7L1508.1 469.7L1516.3 451.7L1524.6 433.7L1532.8 415.7L1541.1 397.9L1549.3 379.8L1557.6 362.1L1565.8 344.8L1574.1 327.6L1582.3 310.2L1590.6 292.5L1598.8 275.6L1607.1 259.1L1615.3 242.9L1623.6 226.6L1631.8 211.3L1640.1 194.0" stroke="#dc9900" stroke-width="5" fill="none" stroke-linejoin="round" stroke-linecap="round" shape-rendering="crispEdges"/>
<path d="M390.6 1100.0L408.6 1089.7L408.6 1110.3zM398.9 848.0L416.9 837.7L416.9 858.3zM407.1 819.0L425.1 808.7L425.1 829.3zM415.4 827.0L433.4 816.7L433.4 837.3zM423.6 845.0L441.6 834.7L441.6 855.3zM431.9 857.0L449.9 846.7L449.9 867.3zM440.1 866.0L458.1 855.7L458.1 876.3zM448.4 877.0L466.4 866.7L466.4 887.3zM456.6 888.0L474.6 877.7L474.6 898.3zM464.9 896.0L482.9 885.7L482.9 906.3zM473.1 905.0L491.1 894.7L491.1 915.3zM481.4 910.0L499.4 899.7L499.4 920.3zM489.6 915.0L507.6 904.7L507.6 925.3zM497.9 915.1L515.9 904.8L515.9 925.4zM506.1 925.1L524.1 914.8L524.1 935.4zM514.4 922.3L532.4 912.0L532.4 932.6zM522.6 914.4L540.6 904.1L540.6 924.7zM530.9 902.1L548.9 891.8L548.9 912.4zM539.1 929.3L557.1 919.0L557.1 939.6zM547.4 931.0L565.4 920.7L565.4 941.3zM555.6 909.9L573.6 899.6L573.6 920.2zM563.9 935.1L581.9 924.8L581.9 945.4zM572.1 918.6L590.1 908.3L590.1 928.9zM580.4 943.1L598.4 932.8L598.4 953.4zM588.6 926.8L606.6 916.5L606.6 937.1zM596.9 919.3L614.9 909.0L614.9 929.6zM605.1 931.9L623.1 921.6L623.1 942.2zM613.4 922.9L631.4 912.6L631.4 933.2zM621.6 923.0L639.6 912.7L639.6 933.3zM629.9 922.6L647.9 912.3L647.9 932.9zM638.1 920.8L656.1 910.5L656.1 931.1zM646.4 926.9L664.4 916.6L664.4 937.2zM654.6 927.8L672.6 917.5L672.6 938.1zM662.9 923.5L680.9 913.2L680.9 933.8zM671.1 934.3L689.1 924.0L689.1 944.6zM679.4 908.1L697.4 897.8L697.4 918.4zM687.6 914.4L705.6 904.1L705.6 924.7zM695.9 923.8L713.9 913.5L713.9 934.1zM704.1 906.4L722.1 896.1L722.1 916.7zM712.4 926.9L730.4 916.6L730.4 937.2zM720.6 918.8L738.6 908.5L738.6 929.1zM728.9 910.8L746.9 900.5L746.9 921.1zM737.1 916.3L755.1 906.0L755.1 926.6zM745.4 907.6L763.4 897.3L763.4 917.9zM753.6 901.0L771.6 890.7L771.6 911.3zM761.9 920.3L779.9 910.0L779.9 930.6zM770.1 921.4L788.1 911.1L788.1 931.7zM778.4 914.9L796.4 904.6L796.4 925.2zM786.6 913.2L804.6 902.9L804.6 923.5zM794.9 895.3L812.9 885.0L812.9 905.6zM803.1 904.3L821.1 894.0L821.1 914.6zM811.4 906.1L829.4 895.8L829.4 916.4zM819.6 910.6L837.6 900.3L837.6 920.9zM827.9 918.6L845.9 908.3L845.9 928.9zM836.1 902.2L854.1 891.9L854.1 912.5zM844.4 898.9L862.4 888.6L862.4 909.2zM852.6 911.4L870.6 901.1L870.6 921.7zM860.9 901.4L878.9 891.1L878.9 911.7zM869.1 890.0L887.1 879.7L887.1 900.3zM877.4 909.4L895.4 899.1L895.4 919.7zM885.6 891.7L903.6 881.4L903.6 902.0zM893.9 893.3L911.9 883.0L911.9 903.6zM902.1 888.9L920.1 878.6L920.1 899.2zM910.4 899.5L928.4 889.2L928.4 909.8zM918.6 904.8L936.6 894.5L936.6 915.1zM926.9 892.7L944.9 882.4L944.9 903.0zM935.1 898.4L953.1 888.1L953.1 908.7zM943.4 890.8L961.4 880.5L961.4 901.1zM951.6 912.6L969.6 902.3L969.6 922.9zM959.9 905.2L977.9 894.9L977.9 915.5zM968.1 887.6L986.1 877.3L986.1 897.9zM976.4 895.8L994.4 885.5L994.4 906.1zM984.6 898.3L1002.6 888.0L1002.6 908.6zM992.9 893.3L1010.9 883.0L1010.9 903.6zM1001.1 883.0L1019.1 872.7L1019.1 893.3zM1009.4 886.9L1027.3 876.6L1027.3 897.2zM1017.6 893.1L1035.6 882.8L1035.6 903.4zM1025.8 889.9L1043.8 879.6L1043.8 900.2zM1034.1 878.6L1052.1 868.3L1052.1 888.9zM1042.3 888.1L1060.3 877.8L1060.3 898.4zM1050.6 875.4L1068.6 865.1L1068.6 885.7zM1058.8 865.5L1076.8 855.2L1076.8 875.8zM1067.1 882.9L1085.1 872.6L1085.1 893.2zM1075.3 888.1L1093.3 877.8L1093.3 898.4zM1083.6 883.1L1101.6 872.8L1101.6 893.4zM1091.8 890.3L1109.8 880.0L1109.8 900.6zM1100.1 891.6L1118.1 881.3L1118.1 901.9zM1108.3 879.4L1126.3 869.1L1126.3 889.7zM1116.6 870.5L1134.6 860.2L1134.6 880.8zM1124.8 874.3L1142.8 864.0L1142.8 884.6zM1133.1 862.0L1151.1 851.7L1151.1 872.3zM1141.3 872.3L1159.3 862.0L1159.3 882.6zM1149.6 870.8L1167.6 860.5L1167.6 881.1zM1157.8 871.8L1175.8 861.5L1175.8 882.1zM1166.1 878.1L1184.1 867.8L1184.1 888.4zM1174.3 851.1L1192.3 840.8L1192.3 861.4zM1182.6 872.9L1200.6 862.6L1200.6 883.2zM1190.8 861.3L1208.8 851.0L1208.8 871.6zM1199.1 869.9L1217.1 859.6L1217.1 880.2zM1207.3 863.8L1225.3 853.5L1225.3 874.1zM1215.6 854.5L1233.6 844.2L1233.6 864.8zM1223.8 864.3L1241.8 854.0L1241.8 874.6zM1232.1 853.5L1250.1 843.2L1250.1 863.8zM1240.3 857.9L1258.3 847.6L1258.3 868.2zM1248.6 850.5L1266.6 840.2L1266.6 860.8zM1256.8 848.6L1274.8 838.3L1274.8 858.9zM1265.1 847.9L1283.1 837.6L1283.1 858.2zM1273.3 849.5L1291.3 839.2L1291.3 859.8zM1281.6 842.4L1299.6 832.1L1299.6 852.7zM1289.8 836.7L1307.8 826.4L1307.8 847.0zM1298.1 833.4L1316.1 823.1L1316.1 843.7zM1306.3 822.4L1324.3 812.1L1324.3 832.7zM1314.6 812.8L1332.6 802.5L1332.6 823.1zM1322.8 805.4L1340.8 795.1L1340.8 815.7zM1331.1 796.3L1349.1 786.0L1349.1 806.6zM1339.3 786.3L1357.3 776.0L1357.3 796.6zM1347.6 773.9L1365.6 763.6L1365.6 784.2zM1355.8 761.4L1373.8 751.1L1373.8 771.7zM1364.1 749.4L1382.1 739.1L1382.1 759.7zM1372.3 733.2L1390.3 722.9L1390.3 743.5zM1380.6 717.7L1398.6 707.4L1398.6 728.0zM1388.8 703.4L1406.8 693.1L1406.8 713.7zM1397.1 687.6L1415.1 677.3L1415.1 697.9zM1405.3 668.5L1423.3 658.2L1423.3 678.8zM1413.6 650.8L1431.6 640.5L1431.6 661.1zM1421.8 634.5L1439.8 624.2L1439.8 644.8zM1430.1 616.3L1448.1 606.0L1448.1 626.6zM1438.3 597.5L1456.3 587.2L1456.3 607.8zM1446.6 578.9L1464.6 568.6L1464.6 589.2zM1454.8 560.5L1472.8 550.2L1472.8 570.8zM1463.1 542.2L1481.1 531.9L1481.1 552.5zM1471.3 523.9L1489.3 513.6L1489.3 534.2zM1479.6 505.8L1497.6 495.5L1497.6 516.1zM1487.8 487.7L1505.8 477.4L1505.8 498.0zM1496.1 469.7L1514.1 459.4L1514.1 480.0zM1504.3 451.7L1522.3 441.4L1522.3 462.0zM1512.6 433.7L1530.6 423.4L1530.6 444.0zM1520.8 415.7L1538.8 405.4L1538.8 426.0zM1529.1 397.9L1547.1 387.6L1547.1 408.2zM1537.3 379.8L1555.3 369.5L1555.3 390.1zM1545.6 362.1L1563.6 351.8L1563.6 372.4zM1553.8 344.8L1571.8 334.5L1571.8 355.1zM1562.1 327.6L1580.1 317.3L1580.1 337.9zM1570.3 310.2L1588.3 299.9L1588.3 320.5zM1578.6 292.5L1596.6 282.2L1596.6 302.8zM1586.8 275.6L1604.8 265.3L1604.8 285.9zM1595.1 259.1L1613.1 248.8L1613.1 269.4zM1603.3 242.9L1621.3 232.6L1621.3 253.2zM1611.6 226.6L1629.6 216.3L1629.6 236.9zM1619.8 211.3L1637.8 201.0L1637.8 221.6zM1628.1 194.0L1646.1 183.7L1646.1 204.3z" fill="#dc9900" shape-rendering="crispEdges"/>
<path d="M1520 197.5H1869" stroke="#ff0000" stroke-width="5"/>
<path d="M249.5 45.5H1885.0M249.5 1339.5H1885.0M274.5 43.0V1365.0M1882.5 43.0V1365.0" stroke="#000" stroke-width="5" fill="none"/>
<path d="M249.5 1339.50H274.5M1857.0 1339.50H1882.5M262.0 1274.58H274.5M1870.0 1274.58H1882.5M262.0 1236.60H274.5M1870.0 1236.60H1882.5M262.0 1209.66H274.5M1870.0 1209.66H1882.5M262.0 1188.76H274.5M1870.0 1188.76H1882.5M262.0 1171.68H274.5M1870.0 1171.68H1882.5M262.0 1157.24H274.5M1870.0 1157.24H1882.5M262.0 1144.73H274.5M1870.0 1144.73H1882.5M262.0 1133.70H274.5M1870.0 1133.70H1882.5M249.5 1123.83H274.5M1857.0 1123.83H1882.5M262.0 1058.91H274.5M1870.0 1058.91H1882.5M262.0 1020.93H274.5M1870.0 1020.93H1882.5M262.0 993.99H274.5M1870.0 993.99H1882.5M262.0 973.09H274.5M1870.0 973.09H1882.5M262.0 956.01H274.5M1870.0 956.01H1882.5M262.0 941.57H274.5M1870.0 941.57H1882.5M262.0 929.07H274.5M1870.0 929.07H1882.5M262.0 918.04H274.5M1870.0 918.04H1882.5M249.5 908.17H274.5M1857.0 908.17H1882.5M262.0 843.24H274.5M1870.0 843.24H1882.5M262.0 805.27H274.5M1870.0 805.27H1882.5M262.0 778.32H274.5M1870.0 778.32H1882.5M262.0 757.42H274.5M1870.0 757.42H1882.5M262.0 740.35H274.5M1870.0 740.35H1882.5M262.0 725.91H274.5M1870.0 725.91H1882.5M262.0 713.40H274.5M1870.0 713.40H1882.5M262.0 702.37H274.5M1870.0 702.37H1882.5M249.5 692.50H274.5M1857.0 692.50H1882.5M262.0 627.58H274.5M1870.0 627.58H1882.5M262.0 589.60H274.5M1870.0 589.60H1882.5M262.0 562.66H274.5M1870.0 562.66H1882.5M262.0 541.76H274.5M1870.0 541.76H1882.5M262.0 524.68H274.5M1870.0 524.68H1882.5M262.0 510.24H274.5M1870.0 510.24H1882.5M262.0 497.73H274.5M1870.0 497.73H1882.5M262.0 486.70H274.5M1870.0 486.70H1882.5M249.5 476.83H274.5M1857.0 476.83H1882.5M262.0 411.91H274.5M1870.0 411.91H1882.5M262.0 373.93H274.5M1870.0 373.93H1882.5M262.0 346.99H274.5M1870.0 346.99H1882.5M262.0 326.09H274.5M1870.0 326.09H1882.5M262.0 309.01H274.5M1870.0 309.01H1882.5M262.0 294.57H274.5M1870.0 294.57H1882.5M262.0 282.07H274.5M1870.0 282.07H1882.5M262.0 271.04H274.5M1870.0 271.04H1882.5M249.5 261.17H274.5M1857.0 261.17H1882.5M262.0 196.24H274.5M1870.0 196.24H1882.5M262.0 158.27H274.5M1870.0 158.27H1882.5M262.0 131.32H274.5M1870.0 131.32H1882.5M262.0 110.42H274.5M1870.0 110.42H1882.5M262.0 93.35H274.5M1870.0 93.35H1882.5M262.0 78.91H274.5M1870.0 78.91H1882.5M262.0 66.40H274.5M1870.0 66.40H1882.5M262.0 55.37H274.5M1870.0 55.37H1882.5M249.5 45.50H274.5M1857.0 45.50H1882.5M274.50 1339.5V1365.0M274.50 45.5V71.0M354.90 1339.5V1352.0M354.90 45.5V58.0M435.30 1339.5V1365.0M435.30 45.5V71.0M515.70 1339.5V1352.0M515.70 45.5V58.0M596.10 1339.5V1365.0M596.10 45.5V71.0M676.50 1339.5V1352.0M676.50 45.5V58.0M756.90 1339.5V1365.0M756.90 45.5V71.0M837.30 1339.5V1352.0M837.30 45.5V58.0M917.70 1339.5V1365.0M917.70 45.5V71.0M998.10 1339.5V1352.0M998.10 45.5V58.0M1078.50 1339.5V1365.0M1078.50 45.5V71.0M1158.90 1339.5V1352.0M1158.90 45.5V58.0M1239.30 1339.5V1365.0M1239.30 45.5V71.0M1319.70 1339.5V1352.0M1319.70 45.5V58.0M1400.10 1339.5V1365.0M1400.10 45.5V71.0M1480.50 1339.5V1352.0M1480.50 45.5V58.0M1560.90 1339.5V1365.0M1560.90 45.5V71.0M1641.30 1339.5V1352.0M1641.30 45.5V58.0M1721.70 1339.5V1365.0M1721.70 45.5V71.0M1802.10 1339.5V1352.0M1802.10 45.5V58.0M1882.50 1339.5V1365.0M1882.50 45.5V71.0" stroke="#000" stroke-width="5" fill="none"/>
<g font-family='"Liberation Serif", "Times New Roman", serif' fill="#000">
<text x="241.8" y="1363.5" font-size="67" text-anchor="end">10<tspan dy="-27" font-size="47">−11</tspan></text>
<text x="241.8" y="1147.8" font-size="67" text-anchor="end">10<tspan dy="-27" font-size="47">−10</tspan></text>
<text x="241.8" y="932.2" font-size="67" text-anchor="end">10<tspan dy="-27" font-size="47">−9</tspan></text>
<text x="241.8" y="716.5" font-size="67" text-anchor="end">10<tspan dy="-27" font-size="47">−8</tspan></text>
<text x="241.8" y="500.8" font-size="67" text-anchor="end">10<tspan dy="-27" font-size="47">−7</tspan></text>
<text x="241.8" y="285.2" font-size="67" text-anchor="end">10<tspan dy="-27" font-size="47">−6</tspan></text>
<text x="241.8" y="69.5" font-size="67" text-anchor="end">10<tspan dy="-27" font-size="47">−5</tspan></text>
<text x="273.7" y="1434.8" font-size="69" text-anchor="middle">1</text>
<text x="259.5" y="1434.8" font-size="69" text-anchor="end">−</text>
<text x="435.3" y="1434.8" font-size="69" text-anchor="middle">0</text>
<text x="596.1" y="1434.8" font-size="69" text-anchor="middle">1</text>
<text x="756.9" y="1434.8" font-size="69" text-anchor="middle">2</text>
<text x="917.7" y="1434.8" font-size="69" text-anchor="middle">3</text>
<text x="1078.5" y="1434.8" font-size="69" text-anchor="middle">4</text>
<text x="1239.3" y="1434.8" font-size="69" text-anchor="middle">5</text>
<text x="1400.1" y="1434.8" font-size="69" text-anchor="middle">6</text>
<text x="1560.9" y="1434.8" font-size="69" text-anchor="middle">7</text>
<text x="1721.7" y="1434.8" font-size="69" text-anchor="middle">8</text>
<text x="1882.5" y="1434.8" font-size="69" text-anchor="middle">9</text>
<text transform="translate(725,1563.8) scale(0.9956,1)" font-size="74">Electric field /MV·cm</text>
<text x="1376" y="1532" font-size="51">−1</text>
<text transform="translate(84,1049.8) rotate(-90) scale(0.99366,1)" font-size="74">Current density /A·cm</text>
<text transform="translate(53.2,389.5) rotate(-90)" font-size="51">−2</text>
<text transform="translate(471,147.1) scale(1.003,1)" font-size="68">Wet + NO POA(1)</text>
<text transform="translate(471,229.7) scale(1.003,1)" font-size="68">Wet + NO POA(2)</text>
<text transform="translate(471,312.3) scale(1.003,1)" font-size="68">Wet + NO POA(3)</text>
<text transform="translate(471,394.9) scale(1.0,1)" font-size="68">Dry + Ar POA(1)</text>
<text transform="translate(471,477.5) scale(1.0,1)" font-size="68">Dry + Ar POA(2)</text>
<text transform="translate(471,560.1) scale(1.0,1)" font-size="68">Dry + Ar POA(3)</text>
<text transform="translate(1249.1,133.2) scale(0.996,1)" font-size="68">Compliance Current</text>
<text transform="translate(836.1,755.2) scale(0.990,1)" font-size="68">Dry + Ar POA</text>
<text transform="translate(1389.4,966.8) scale(1.001,1)" font-size="68">Wet + NO POA</text>
</g>
<path d="M304 124.5H453" stroke="#000000" stroke-width="5" stroke-linecap="round"/>
<path d="M369.7 116.2h16.6v16.6h-16.6z" fill="#000000" shape-rendering="crispEdges"/>
<path d="M304 207.2H453" stroke="#fa3c3c" stroke-width="5" stroke-linecap="round"/>
<path d="M369.5 207.2a8.5 8.5 0 1 0 17.0 0a8.5 8.5 0 1 0 -17.0 0z" fill="#fa3c3c" shape-rendering="crispEdges"/>
<path d="M304 290.0H453" stroke="#0a6ee0" stroke-width="5" stroke-linecap="round"/>
<path d="M378.0 278.0L388.0 296.0L368.0 296.0z" fill="#0a6ee0" shape-rendering="crispEdges"/>
<path d="M304 372.8H453" stroke="#00ad68" stroke-width="5" stroke-linecap="round"/>
<path d="M378.0 384.8L388.0 366.8L368.0 366.8z" fill="#00ad68" shape-rendering="crispEdges"/>
<path d="M304 455.5H453" stroke="#c077e3" stroke-width="5" stroke-linecap="round"/>
<path d="M378.0 444.5L389.0 455.5L378.0 466.5L367.0 455.5z" fill="#c077e3" shape-rendering="crispEdges"/>
<path d="M304 538.2H453" stroke="#dc9900" stroke-width="5" stroke-linecap="round"/>
<path d="M366.0 538.2L384.0 528.0L384.0 548.5z" fill="#dc9900" shape-rendering="crispEdges"/>
<path d="M1528.0 143.9L1572.7 170.7" stroke="#000" stroke-width="1.8"/>
<path d="M1598.9 186.4L1566.7 177.0L1575.4 162.4z" fill="#000"/>
<path d="M1265.3 726.2L1321.2 741.8" stroke="#000" stroke-width="1.8"/>
<path d="M1352.5 750.6L1316.9 749.7L1321.6 732.9z" fill="#000"/>
<path d="M1466.8 900.8L1433.4 850.7" stroke="#000" stroke-width="1.8"/>
<path d="M1415.4 823.6L1441.8 847.5L1427.3 857.1z" fill="#000"/>
</svg>
</body></html>
